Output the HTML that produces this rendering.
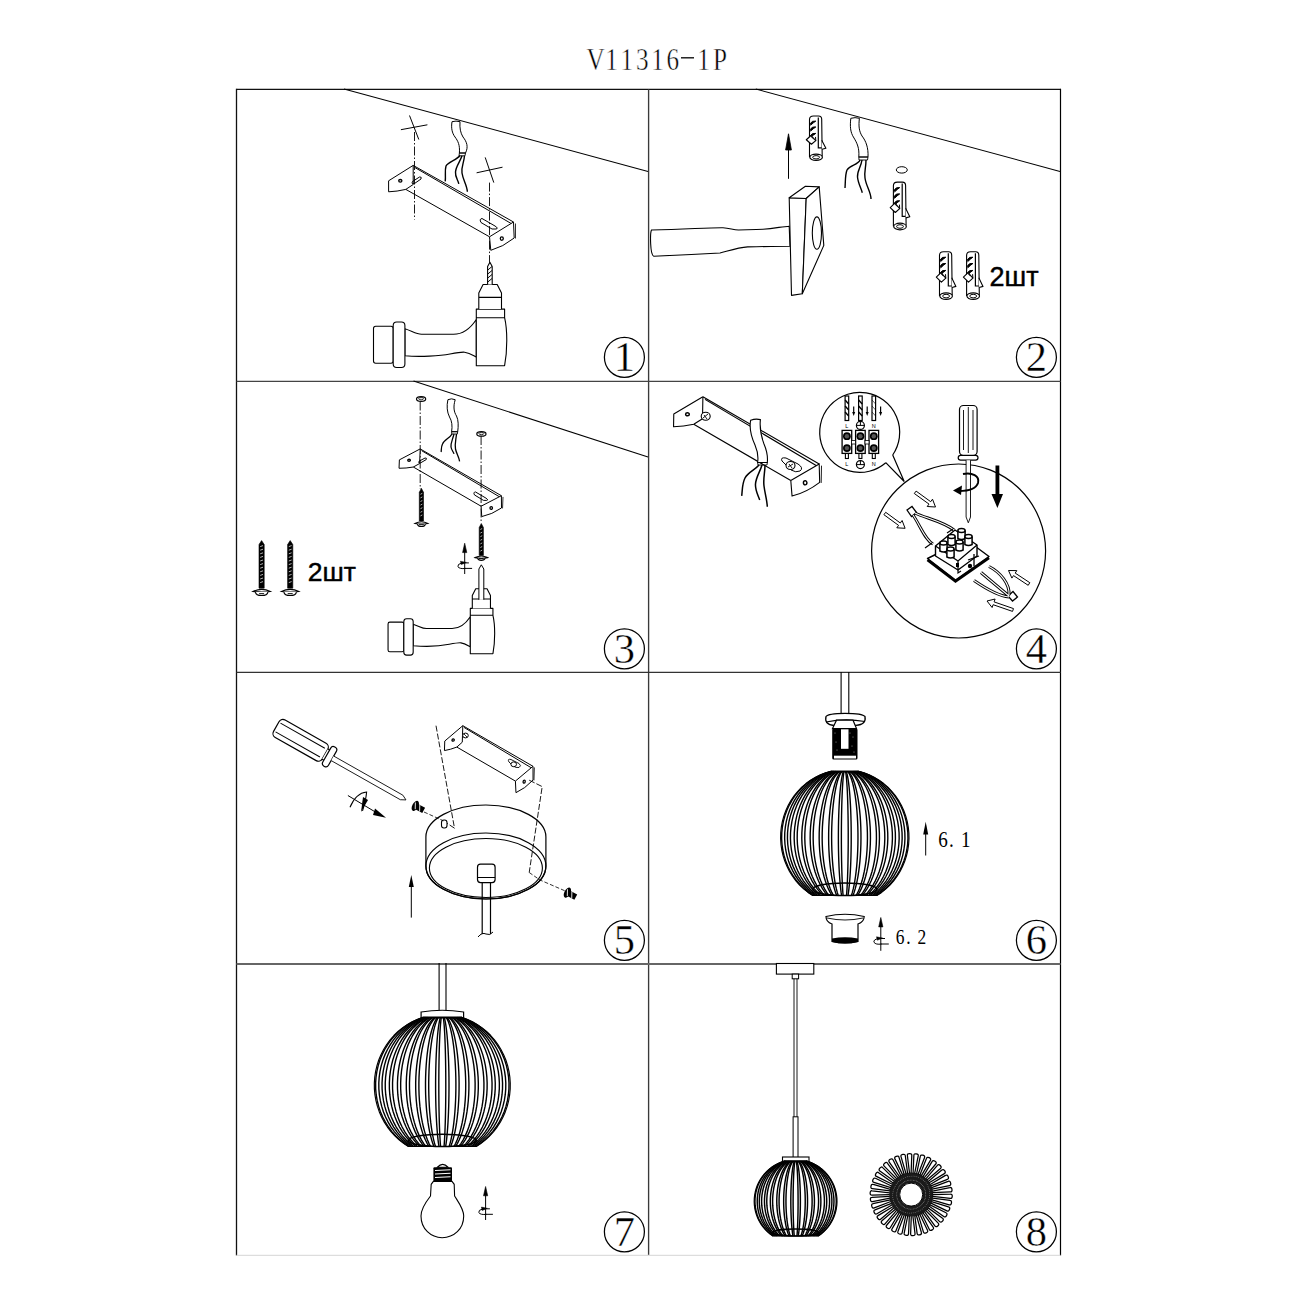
<!DOCTYPE html>
<html><head><meta charset="utf-8"><style>
html,body{margin:0;padding:0;background:#fff;width:1300px;height:1300px;overflow:hidden}
svg{display:block}
</style></head><body>
<svg width="1300" height="1300" viewBox="0 0 1300 1300"><line x1="236.5" y1="89.3" x2="1060.5" y2="89.3" stroke="#111" stroke-width="1.3" />
<line x1="236.5" y1="88.8" x2="236.5" y2="1255.5" stroke="#111" stroke-width="1.3" />
<line x1="1060.5" y1="88.8" x2="1060.5" y2="1255.5" stroke="#000" stroke-width="1.2" />
<line x1="648.6" y1="89.3" x2="648.6" y2="1255.5" stroke="#3a3a3a" stroke-width="1.35" />
<line x1="236.5" y1="381.4" x2="1060.5" y2="381.4" stroke="#444" stroke-width="1.3" />
<line x1="236.5" y1="672.4" x2="1060.5" y2="672.4" stroke="#333" stroke-width="1.3" />
<line x1="236.5" y1="964.0" x2="1060.5" y2="964.0" stroke="#666" stroke-width="1.9" />
<line x1="236.5" y1="1255.3" x2="1060.5" y2="1255.3" stroke="#ddd" stroke-width="1.3" />
<g transform="translate(595.6,69.6) scale(0.8,1)"><text x="0" y="0" font-family="Liberation Serif" font-size="31.5" text-anchor="middle" stroke="#fff" stroke-width="0.5">V</text></g>
<g transform="translate(611.5,69.6) scale(0.8,1)"><text x="0" y="0" font-family="Liberation Serif" font-size="31.5" text-anchor="middle" stroke="#fff" stroke-width="0.5">1</text></g>
<g transform="translate(626.7,69.6) scale(0.8,1)"><text x="0" y="0" font-family="Liberation Serif" font-size="31.5" text-anchor="middle" stroke="#fff" stroke-width="0.5">1</text></g>
<g transform="translate(642.3,69.6) scale(0.8,1)"><text x="0" y="0" font-family="Liberation Serif" font-size="31.5" text-anchor="middle" stroke="#fff" stroke-width="0.5">3</text></g>
<g transform="translate(657.6,69.6) scale(0.8,1)"><text x="0" y="0" font-family="Liberation Serif" font-size="31.5" text-anchor="middle" stroke="#fff" stroke-width="0.5">1</text></g>
<g transform="translate(672.8,69.6) scale(0.8,1)"><text x="0" y="0" font-family="Liberation Serif" font-size="31.5" text-anchor="middle" stroke="#fff" stroke-width="0.5">6</text></g>
<g transform="translate(703.6,69.6) scale(0.8,1)"><text x="0" y="0" font-family="Liberation Serif" font-size="31.5" text-anchor="middle" stroke="#fff" stroke-width="0.5">1</text></g>
<g transform="translate(719.9,69.6) scale(0.8,1)"><text x="0" y="0" font-family="Liberation Serif" font-size="31.5" text-anchor="middle" stroke="#fff" stroke-width="0.5">P</text></g>
<line x1="681.0" y1="57.8" x2="694.0" y2="57.8" stroke="#111" stroke-width="1.4" />
<circle cx="624.4" cy="357.3" r="20.0" stroke="#000" stroke-width="1.25" fill="none" />
<text x="624.4" y="371.0" font-family="Liberation Serif" font-size="42.5" text-anchor="middle" stroke="#fff" stroke-width="0.4">1</text>
<circle cx="1036.4" cy="357.3" r="20.0" stroke="#000" stroke-width="1.25" fill="none" />
<text x="1036.4" y="371.0" font-family="Liberation Serif" font-size="42.5" text-anchor="middle" stroke="#fff" stroke-width="0.4">2</text>
<circle cx="624.4" cy="648.8" r="20.0" stroke="#000" stroke-width="1.25" fill="none" />
<text x="624.4" y="662.5" font-family="Liberation Serif" font-size="42.5" text-anchor="middle" stroke="#fff" stroke-width="0.4">3</text>
<circle cx="1036.4" cy="648.8" r="20.0" stroke="#000" stroke-width="1.25" fill="none" />
<text x="1036.4" y="662.5" font-family="Liberation Serif" font-size="42.5" text-anchor="middle" stroke="#fff" stroke-width="0.4">4</text>
<circle cx="624.4" cy="940.3" r="20.0" stroke="#000" stroke-width="1.25" fill="none" />
<text x="624.4" y="954.0" font-family="Liberation Serif" font-size="42.5" text-anchor="middle" stroke="#fff" stroke-width="0.4">5</text>
<circle cx="1036.4" cy="940.3" r="20.0" stroke="#000" stroke-width="1.25" fill="none" />
<text x="1036.4" y="954.0" font-family="Liberation Serif" font-size="42.5" text-anchor="middle" stroke="#fff" stroke-width="0.4">6</text>
<circle cx="624.4" cy="1231.8" r="20.0" stroke="#000" stroke-width="1.25" fill="none" />
<text x="624.4" y="1245.5" font-family="Liberation Serif" font-size="42.5" text-anchor="middle" stroke="#fff" stroke-width="0.4">7</text>
<circle cx="1036.4" cy="1231.8" r="20.0" stroke="#000" stroke-width="1.25" fill="none" />
<text x="1036.4" y="1245.5" font-family="Liberation Serif" font-size="42.5" text-anchor="middle" stroke="#fff" stroke-width="0.4">8</text>
<line x1="344.0" y1="89.0" x2="648.0" y2="171.4" stroke="#000" stroke-width="1.05" />
<path d="M414.5,132 L414.5,219.5" stroke="#000" stroke-width="0.9" fill="none" stroke-dasharray="9,2,1.5,2"/>
<path d="M489.5,182.6 L489.5,265" stroke="#000" stroke-width="0.9" fill="none" stroke-dasharray="9,2,1.5,2"/>
<path d="M400.9,129.7 L427.4,124.8 M409.5,115.5 L418.8,139.5" stroke="#000" stroke-width="1.0" fill="none" />
<path d="M476.6,172.8 L502.5,167.2 M485.2,157.4 L493.8,182.6" stroke="#000" stroke-width="1.0" fill="none" />
<path d="M452,121.7 C451,128 452,133 455,137 C458,141 460,145 459.4,153 L465.5,153 C468.5,147 467,142 463,137 C460.5,133 459.5,128 460,121.7 Q456,120.5 452,121.7 Z" stroke="#000" stroke-width="1.0" fill="#fff" />
<path d="M459.4,153 L465.5,153 L465,155.8 L459,155.8 Z" stroke="#000" stroke-width="0.9" fill="none" />
<path d="M460,155.5 C457,160 448,162 446,166 C444.5,171 446,176 445.2,181.4 M462,155.8 C460,162 456,166 455.5,172 C455,177 458,180 458.8,183.8 M464.5,155.8 C464,163 461,167 462,173 C463,180 467,185 467.4,191.8" stroke="#000" stroke-width="1.4" fill="none" />
<g transform="matrix(1.0000,0.0000,0.0000,1.0000,-0.00,0.00)"><path d="M413.2,165.4 L388.6,180.8 L388.6,191.8 Q397,191.5 405.8,189.4 L413.2,184.5" fill="#fff" stroke="#000" stroke-width="1.0" vector-effect="non-scaling-stroke" stroke-linejoin="round"/><path d="M413.2,165.4 L513.5,222 M415,167.6 L512,224 M405.8,189.4 L489.5,236.8 M413.2,165.4 L413.2,184.5" fill="none" stroke="#000" stroke-width="1.0" vector-effect="non-scaling-stroke"/><path d="M489.5,236.8 L513.5,222 L514.2,238 Q503,247 490.8,250.3 Z" fill="#fff" stroke="#000" stroke-width="1.0" vector-effect="non-scaling-stroke" stroke-linejoin="round"/><path d="M515.5,223.5 L515.5,238.5" fill="none" stroke="#000" stroke-width="0.8" vector-effect="non-scaling-stroke"/><ellipse cx="400.3" cy="180.8" rx="1.6" ry="1.3" fill="none" stroke="#000" stroke-width="1.3" vector-effect="non-scaling-stroke"/><ellipse cx="501.8" cy="238.6" rx="1.5" ry="1.8" fill="none" stroke="#000" stroke-width="1.3" vector-effect="non-scaling-stroke"/><path d="M412.5,181.5 L419.5,177 Q422,176.5 421,179 L414.5,183.5 Q411,184.5 412.5,181.5 Z" fill="none" stroke="#000" stroke-width="1.0" vector-effect="non-scaling-stroke"/><path d="M482,218.5 L495,226 Q499,228.5 496,229 L492,229 L481,222.5 Q479,219 482,218.5 Z" fill="none" stroke="#000" stroke-width="1.0" vector-effect="non-scaling-stroke"/></g>
<path d="M404.9,328.8 C412,331 416,334.3 421.5,334.3 L453.5,334.3 C465,334.3 472,326 476.3,319.5 L476.3,357.1 C474,356 470,353 464.6,352.2 C462,351.8 458,352.5 450,354 C440,356 420,357 404.9,355.8 Z" fill="#fff" stroke="#000" stroke-width="1.1" vector-effect="non-scaling-stroke" stroke-linejoin="round"/><rect x="373.5" y="326.3" width="19.7" height="36.9" rx="2.2" fill="#fff" stroke="#000" stroke-width="1.1" vector-effect="non-scaling-stroke" stroke-linejoin="round"/><rect x="393.2" y="322" width="11.7" height="45.5" rx="3.5" fill="#fff" stroke="#000" stroke-width="1.1" vector-effect="non-scaling-stroke" stroke-linejoin="round"/><path d="M476.3,309.1 L504.6,309.1 L504.6,317.7 C507.5,330 507.5,350 504.6,365.7 L476.3,365.7 Z M476.3,317.7 L504.6,317.7" fill="#fff" stroke="#000" stroke-width="1.1" vector-effect="non-scaling-stroke" stroke-linejoin="round"/><path d="M478.8,309.1 L478.8,293.1 L483.1,284.5 L497.2,284.5 L501.5,293.1 L501.5,309.1 M478.8,297.4 L501.5,297.4" fill="#fff" stroke="#000" stroke-width="1.1" vector-effect="non-scaling-stroke" stroke-linejoin="round"/><path d="M487.6,284.5 L487.6,266.5 L489.9,262.3 L492.2,266.5 L492.2,284.5" fill="#fff" stroke="#000" stroke-width="1.1" vector-effect="non-scaling-stroke" stroke-linejoin="round"/><path d="M487.8,282 L492,278.5 M487.8,278 L492,274.5 M487.8,274 L492,270.5 M487.8,270 L492,266.5" fill="none" stroke="#000" stroke-width="0.9900000000000001" vector-effect="non-scaling-stroke"/>
<line x1="755.8" y1="89.0" x2="1060.0" y2="171.4" stroke="#000" stroke-width="1.05" />
<path d="M788.5,178.8 L788.5,148" stroke="#000" stroke-width="1.0" fill="none" />
<path d="M785.6,150 L788.5,133.8 L791.4,150 Z" stroke="#000" stroke-width="0.8" fill="#000" />
<path d="M850.8,118.3 C850,126 850,132 854,138 C857,143 859.5,148 858.8,157 L868,157 C868.5,148 866,141 862,136 C859,131 858.5,126 859.4,118.3 Q855,117 850.8,118.3 Z" stroke="#000" stroke-width="1.0" fill="#fff" />
<path d="M858.8,157 L868,157 L867.5,160 L859,160 Z" stroke="#000" stroke-width="0.9" fill="none" />
<path d="M860,160 C858,165 850,165 847,170 C845,175 845.5,182 845,188 M862,160 C861,167 857,171 857.5,177 C858,183 861,188 862.3,192.7 M866,160 C866,168 864,172 865,178 C866,186 871,192 871,199" stroke="#000" stroke-width="1.4" fill="none" />
<ellipse cx="901.8" cy="169.9" rx="5.5" ry="3.2" stroke="#000" stroke-width="1.0" fill="none" />
<g transform="translate(809.5,116.0) scale(1.0,0.93)"><path d="M0,44.2 L0,3.7 Q0,0 4,0 L9,0 Q12.2,0 12.2,3.5 L12.7,43.5" fill="#fff" stroke="#000" vector-effect="non-scaling-stroke" stroke-linejoin="round" stroke-width="1.1"/><path d="M8.8,1.5 L8.8,34.3 L12.2,34.3" fill="none" stroke="#000" stroke-width="1.2" vector-effect="non-scaling-stroke"/><ellipse cx="6.6" cy="44.4" rx="6.3" ry="3.3" fill="#fff" stroke="#000" vector-effect="non-scaling-stroke" stroke-linejoin="round" stroke-width="1.2"/><ellipse cx="6.6" cy="44.4" rx="3.4" ry="1.8" fill="none" stroke="#000" stroke-width="1" vector-effect="non-scaling-stroke"/><path d="M0.5,8.5 Q2.5,4.5 6.3,5.5 Q4,7.0 1,10.0" fill="#000" stroke="#000" stroke-width="1" vector-effect="non-scaling-stroke"/><path d="M0.5,14.8 Q2.5,10.8 6.3,11.8 Q4,13.3 1,16.3" fill="#000" stroke="#000" stroke-width="1" vector-effect="non-scaling-stroke"/><path d="M0.5,21.7 Q2.5,17.7 6.3,18.7 Q4,20.2 1,23.2" fill="#000" stroke="#000" stroke-width="1" vector-effect="non-scaling-stroke"/><path d="M-3.2,25.5 L1.5,21 L6.3,26.5 L1.9,30.4 Z" fill="#fff" stroke="#000" vector-effect="non-scaling-stroke" stroke-linejoin="round" stroke-width="1.1"/><path d="M1.5,22 L4,24.5 M6,22.5 L6.3,26.5" fill="none" stroke="#000" stroke-width="1" vector-effect="non-scaling-stroke"/><path d="M12.2,26.1 L16.4,34.7 L12.5,35.8" fill="#fff" stroke="#000" vector-effect="non-scaling-stroke" stroke-linejoin="round" stroke-width="1.1"/></g>
<g transform="translate(893.4,182.1) scale(1.0,1.0)"><path d="M0,44.2 L0,3.7 Q0,0 4,0 L9,0 Q12.2,0 12.2,3.5 L12.7,43.5" fill="#fff" stroke="#000" vector-effect="non-scaling-stroke" stroke-linejoin="round" stroke-width="1.1"/><path d="M8.8,1.5 L8.8,34.3 L12.2,34.3" fill="none" stroke="#000" stroke-width="1.2" vector-effect="non-scaling-stroke"/><ellipse cx="6.6" cy="44.4" rx="6.3" ry="3.3" fill="#fff" stroke="#000" vector-effect="non-scaling-stroke" stroke-linejoin="round" stroke-width="1.2"/><ellipse cx="6.6" cy="44.4" rx="3.4" ry="1.8" fill="none" stroke="#000" stroke-width="1" vector-effect="non-scaling-stroke"/><path d="M0.5,8.5 Q2.5,4.5 6.3,5.5 Q4,7.0 1,10.0" fill="#000" stroke="#000" stroke-width="1" vector-effect="non-scaling-stroke"/><path d="M0.5,14.8 Q2.5,10.8 6.3,11.8 Q4,13.3 1,16.3" fill="#000" stroke="#000" stroke-width="1" vector-effect="non-scaling-stroke"/><path d="M0.5,21.7 Q2.5,17.7 6.3,18.7 Q4,20.2 1,23.2" fill="#000" stroke="#000" stroke-width="1" vector-effect="non-scaling-stroke"/><path d="M-3.2,25.5 L1.5,21 L6.3,26.5 L1.9,30.4 Z" fill="#fff" stroke="#000" vector-effect="non-scaling-stroke" stroke-linejoin="round" stroke-width="1.1"/><path d="M1.5,22 L4,24.5 M6,22.5 L6.3,26.5" fill="none" stroke="#000" stroke-width="1" vector-effect="non-scaling-stroke"/><path d="M12.2,26.1 L16.4,34.7 L12.5,35.8" fill="#fff" stroke="#000" vector-effect="non-scaling-stroke" stroke-linejoin="round" stroke-width="1.1"/></g>
<g transform="translate(939.5,251.7) scale(1.0,1.0)"><path d="M0,44.2 L0,3.7 Q0,0 4,0 L9,0 Q12.2,0 12.2,3.5 L12.7,43.5" fill="#fff" stroke="#000" vector-effect="non-scaling-stroke" stroke-linejoin="round" stroke-width="1.1"/><path d="M8.8,1.5 L8.8,34.3 L12.2,34.3" fill="none" stroke="#000" stroke-width="1.2" vector-effect="non-scaling-stroke"/><ellipse cx="6.6" cy="44.4" rx="6.3" ry="3.3" fill="#fff" stroke="#000" vector-effect="non-scaling-stroke" stroke-linejoin="round" stroke-width="1.2"/><ellipse cx="6.6" cy="44.4" rx="3.4" ry="1.8" fill="none" stroke="#000" stroke-width="1" vector-effect="non-scaling-stroke"/><path d="M0.5,8.5 Q2.5,4.5 6.3,5.5 Q4,7.0 1,10.0" fill="#000" stroke="#000" stroke-width="1" vector-effect="non-scaling-stroke"/><path d="M0.5,14.8 Q2.5,10.8 6.3,11.8 Q4,13.3 1,16.3" fill="#000" stroke="#000" stroke-width="1" vector-effect="non-scaling-stroke"/><path d="M0.5,21.7 Q2.5,17.7 6.3,18.7 Q4,20.2 1,23.2" fill="#000" stroke="#000" stroke-width="1" vector-effect="non-scaling-stroke"/><path d="M-3.2,25.5 L1.5,21 L6.3,26.5 L1.9,30.4 Z" fill="#fff" stroke="#000" vector-effect="non-scaling-stroke" stroke-linejoin="round" stroke-width="1.1"/><path d="M1.5,22 L4,24.5 M6,22.5 L6.3,26.5" fill="none" stroke="#000" stroke-width="1" vector-effect="non-scaling-stroke"/><path d="M12.2,26.1 L16.4,34.7 L12.5,35.8" fill="#fff" stroke="#000" vector-effect="non-scaling-stroke" stroke-linejoin="round" stroke-width="1.1"/></g>
<g transform="translate(966.6,251.7) scale(1.0,1.0)"><path d="M0,44.2 L0,3.7 Q0,0 4,0 L9,0 Q12.2,0 12.2,3.5 L12.7,43.5" fill="#fff" stroke="#000" vector-effect="non-scaling-stroke" stroke-linejoin="round" stroke-width="1.1"/><path d="M8.8,1.5 L8.8,34.3 L12.2,34.3" fill="none" stroke="#000" stroke-width="1.2" vector-effect="non-scaling-stroke"/><ellipse cx="6.6" cy="44.4" rx="6.3" ry="3.3" fill="#fff" stroke="#000" vector-effect="non-scaling-stroke" stroke-linejoin="round" stroke-width="1.2"/><ellipse cx="6.6" cy="44.4" rx="3.4" ry="1.8" fill="none" stroke="#000" stroke-width="1" vector-effect="non-scaling-stroke"/><path d="M0.5,8.5 Q2.5,4.5 6.3,5.5 Q4,7.0 1,10.0" fill="#000" stroke="#000" stroke-width="1" vector-effect="non-scaling-stroke"/><path d="M0.5,14.8 Q2.5,10.8 6.3,11.8 Q4,13.3 1,16.3" fill="#000" stroke="#000" stroke-width="1" vector-effect="non-scaling-stroke"/><path d="M0.5,21.7 Q2.5,17.7 6.3,18.7 Q4,20.2 1,23.2" fill="#000" stroke="#000" stroke-width="1" vector-effect="non-scaling-stroke"/><path d="M-3.2,25.5 L1.5,21 L6.3,26.5 L1.9,30.4 Z" fill="#fff" stroke="#000" vector-effect="non-scaling-stroke" stroke-linejoin="round" stroke-width="1.1"/><path d="M1.5,22 L4,24.5 M6,22.5 L6.3,26.5" fill="none" stroke="#000" stroke-width="1" vector-effect="non-scaling-stroke"/><path d="M12.2,26.1 L16.4,34.7 L12.5,35.8" fill="#fff" stroke="#000" vector-effect="non-scaling-stroke" stroke-linejoin="round" stroke-width="1.1"/></g>
<text x="989.5" y="286.2" font-family="Liberation Sans" font-size="27" text-anchor="start" stroke="#000" stroke-width="0.45">2шт</text>
<path d="M651.5,230 C690,229 710,227.5 723,227.7 C730,228 733,230 738.5,230 C750,230 755,229.5 763,229.2 C775,228.5 782,226.5 789.2,226.2 L790,246.2 C780,246.2 765,246.5 747.7,246.9 C738,247.5 728,251 720,253 C700,254 670,255.5 653.8,256.2 C650,255 650,233 651.5,230 Z" stroke="#000" stroke-width="1.1" fill="#fff" />
<polygon points="789.2,197.7 806.2,198.5 802.3,293.8 791.5,295.4" stroke="#000" stroke-width="1.1" fill="#fff" stroke-linejoin="round" />
<polygon points="789.2,197.7 805.4,186.2 819.2,186.9 806.2,198.5" stroke="#000" stroke-width="1.1" fill="#fff" stroke-linejoin="round" />
<polygon points="806.2,198.5 819.2,186.9 823.8,245.4 802.3,293.8" stroke="#000" stroke-width="1.1" fill="#fff" stroke-linejoin="round" />
<ellipse cx="816.9" cy="233.1" rx="4.6" ry="16.2" stroke="#000" stroke-width="1.1" fill="none" />
<line x1="413.5" y1="381.0" x2="648.0" y2="457.0" stroke="#000" stroke-width="1.05" />
<path d="M420.2,401.5 L420.2,489" stroke="#000" stroke-width="0.9" fill="none" stroke-dasharray="9,2,1.5,2"/>
<path d="M481.1,436 L481.1,523" stroke="#000" stroke-width="0.9" fill="none" stroke-dasharray="9,2,1.5,2"/>
<ellipse cx="421.1" cy="399.0" rx="4.6" ry="2.4" fill="#fff" stroke="#000" stroke-width="1.2"/><ellipse cx="421.1" cy="398.7" rx="2.5" ry="1.1" fill="none" stroke="#000" stroke-width="0.8"/>
<ellipse cx="481.4" cy="433.9" rx="4.6" ry="2.2" fill="#fff" stroke="#000" stroke-width="1.2"/><ellipse cx="481.4" cy="433.6" rx="2.5" ry="1.0" fill="none" stroke="#000" stroke-width="0.8"/>
<path d="M447.9,399.7 C446.5,406 447,412 449.5,417 C452,421 452.5,426 451.6,431.7 L457.7,431.7 C458.5,426 458.5,420 456.5,416 C454,412 453,407 455.2,399.7 Q451.5,398 447.9,399.7 Z" stroke="#000" stroke-width="1.0" fill="#fff" />
<path d="M451.6,431.7 L457.7,431.7 L457.3,434 L451.8,434 Z" stroke="#000" stroke-width="0.9" fill="none" />
<path d="M452,434 C450,438 444,440 442.5,444 C441,447 441.5,450 441.1,452 M454,434 C452.5,440 450.5,443 451,447 C451.5,450 453.5,452 454,453.9 M456.5,434 C456,440 454.5,444 455.5,449 C456.5,454 459,457 459.6,461.3" stroke="#000" stroke-width="1.3" fill="none" />
<g transform="matrix(0.8269,0.0346,-0.0307,0.7656,83.60,307.98)"><path d="M413.2,165.4 L388.6,180.8 L388.6,191.8 Q397,191.5 405.8,189.4 L413.2,184.5" fill="#fff" stroke="#000" stroke-width="1.0" vector-effect="non-scaling-stroke" stroke-linejoin="round"/><path d="M413.2,165.4 L513.5,222 M415,167.6 L512,224 M405.8,189.4 L489.5,236.8 M413.2,165.4 L413.2,184.5" fill="none" stroke="#000" stroke-width="1.0" vector-effect="non-scaling-stroke"/><path d="M489.5,236.8 L513.5,222 L514.2,238 Q503,247 490.8,250.3 Z" fill="#fff" stroke="#000" stroke-width="1.0" vector-effect="non-scaling-stroke" stroke-linejoin="round"/><path d="M515.5,223.5 L515.5,238.5" fill="none" stroke="#000" stroke-width="0.8" vector-effect="non-scaling-stroke"/><ellipse cx="400.3" cy="180.8" rx="1.6" ry="1.3" fill="none" stroke="#000" stroke-width="1.3" vector-effect="non-scaling-stroke"/><ellipse cx="501.8" cy="238.6" rx="1.5" ry="1.8" fill="none" stroke="#000" stroke-width="1.3" vector-effect="non-scaling-stroke"/><path d="M412.5,181.5 L419.5,177 Q422,176.5 421,179 L414.5,183.5 Q411,184.5 412.5,181.5 Z" fill="none" stroke="#000" stroke-width="1.0" vector-effect="non-scaling-stroke"/><path d="M482,218.5 L495,226 Q499,228.5 496,229 L492,229 L481,222.5 Q479,219 482,218.5 Z" fill="none" stroke="#000" stroke-width="1.0" vector-effect="non-scaling-stroke"/></g>
<path d="M419.3,492.3 L421.4,488.3 L423.5,492.3 L423.5,521.0 L419.3,521.0 Z" fill="#000" stroke="#000" stroke-width="0.6"/><path d="M420.5,494.3 L422.3,493.3" stroke="#fff" stroke-width="0.7"/><path d="M420.5,497.9 L422.3,496.9" stroke="#fff" stroke-width="0.7"/><path d="M420.5,501.5 L422.3,500.5" stroke="#fff" stroke-width="0.7"/><path d="M420.5,505.1 L422.3,504.1" stroke="#fff" stroke-width="0.7"/><path d="M420.5,508.7 L422.3,507.7" stroke="#fff" stroke-width="0.7"/><path d="M420.5,512.3 L422.3,511.3" stroke="#fff" stroke-width="0.7"/><path d="M420.5,515.9 L422.3,514.9" stroke="#fff" stroke-width="0.7"/><path d="M414.9,523.5 Q421.4,520.0 427.9,523.5 Q421.4,524.7 414.9,523.5 Z" fill="#fff" stroke="#000" stroke-width="1.1"/><path d="M417.4,524.1 Q417.9,526.5 421.4,526.5 Q424.9,526.5 425.4,524.1" fill="#fff" stroke="#000" stroke-width="1.1"/><path d="M418.9,524.7 L423.9,524.7" stroke="#000" stroke-width="1"/>
<path d="M479.2,527.5 L481.3,523.5 L483.4,527.5 L483.4,555.4 L479.2,555.4 Z" fill="#000" stroke="#000" stroke-width="0.6"/><path d="M480.4,529.5 L482.2,528.5" stroke="#fff" stroke-width="0.7"/><path d="M480.4,533.1 L482.2,532.1" stroke="#fff" stroke-width="0.7"/><path d="M480.4,536.7 L482.2,535.7" stroke="#fff" stroke-width="0.7"/><path d="M480.4,540.3 L482.2,539.3" stroke="#fff" stroke-width="0.7"/><path d="M480.4,543.9 L482.2,542.9" stroke="#fff" stroke-width="0.7"/><path d="M480.4,547.5 L482.2,546.5" stroke="#fff" stroke-width="0.7"/><path d="M480.4,551.1 L482.2,550.1" stroke="#fff" stroke-width="0.7"/><path d="M475.1,557.6 Q481.3,554.4 487.6,557.6 Q481.3,558.9 475.1,557.6 Z" fill="#fff" stroke="#000" stroke-width="1.1"/><path d="M477.6,558.2 Q478.1,560.4 481.3,560.4 Q484.6,560.4 485.1,558.2" fill="#fff" stroke="#000" stroke-width="1.1"/><path d="M478.8,558.6 L483.8,558.6" stroke="#000" stroke-width="1"/>
<path d="M464.7,550.0 L464.7,574.0" stroke="#000" stroke-width="1"/><path d="M462.6,552.6 L464.7,543.2 L466.8,552.6 Z" fill="#000" stroke="#000" stroke-width="0.6"/><path d="M464.7,568.4 L472.1,568.4" stroke="#000" stroke-width="1"/><path d="M468.9,562.9 L462.1,562.9 Q457.1,564.1 457.9,566.7 Q459.6,569.2 465.6,568.4" fill="none" stroke="#000" stroke-width="1"/><path d="M460.4,561.2 L466.4,562.4 L461.3,564.6 Z" fill="#000" stroke="#000" stroke-width="0.5"/>
<g transform="matrix(0.8,0,0,0.8,89.26,361.12)"><path d="M404.9,328.8 C412,331 416,334.3 421.5,334.3 L453.5,334.3 C465,334.3 472,326 476.3,319.5 L476.3,357.1 C474,356 470,353 464.6,352.2 C462,351.8 458,352.5 450,354 C440,356 420,357 404.9,355.8 Z" fill="#fff" stroke="#000" stroke-width="1.1" vector-effect="non-scaling-stroke" stroke-linejoin="round"/><rect x="373.5" y="326.3" width="19.7" height="36.9" rx="2.2" fill="#fff" stroke="#000" stroke-width="1.1" vector-effect="non-scaling-stroke" stroke-linejoin="round"/><rect x="393.2" y="322" width="11.7" height="45.5" rx="3.5" fill="#fff" stroke="#000" stroke-width="1.1" vector-effect="non-scaling-stroke" stroke-linejoin="round"/><path d="M476.3,309.1 L504.6,309.1 L504.6,317.7 C507.5,330 507.5,350 504.6,365.7 L476.3,365.7 Z M476.3,317.7 L504.6,317.7" fill="#fff" stroke="#000" stroke-width="1.1" vector-effect="non-scaling-stroke" stroke-linejoin="round"/><path d="M478.8,309.1 L478.8,293.1 L483.1,284.5 L497.2,284.5 L501.5,293.1 L501.5,309.1 M478.8,297.4 L501.5,297.4" fill="#fff" stroke="#000" stroke-width="1.1" vector-effect="non-scaling-stroke" stroke-linejoin="round"/></g>
<path d="M478.9,599.8 L478.9,569 L481.3,564.8 L483.8,569 L483.8,599.8" stroke="#000" stroke-width="1.0" fill="#fff" />
<path d="M259.0,544.6 L261.6,540.6 L264.2,544.6 L264.2,588.2 L259.0,588.2 Z" fill="#000" stroke="#000" stroke-width="0.6"/><path d="M260.2,546.6 L263.0,545.6" stroke="#fff" stroke-width="0.7"/><path d="M260.2,550.2 L263.0,549.2" stroke="#fff" stroke-width="0.7"/><path d="M260.2,553.8 L263.0,552.8" stroke="#fff" stroke-width="0.7"/><path d="M260.2,557.4 L263.0,556.4" stroke="#fff" stroke-width="0.7"/><path d="M260.2,561.0 L263.0,560.0" stroke="#fff" stroke-width="0.7"/><path d="M260.2,564.6 L263.0,563.6" stroke="#fff" stroke-width="0.7"/><path d="M260.2,568.2 L263.0,567.2" stroke="#fff" stroke-width="0.7"/><path d="M260.2,571.8 L263.0,570.8" stroke="#fff" stroke-width="0.7"/><path d="M260.2,575.4 L263.0,574.4" stroke="#fff" stroke-width="0.7"/><path d="M260.2,579.0 L263.0,578.0" stroke="#fff" stroke-width="0.7"/><path d="M260.2,582.6 L263.0,581.6" stroke="#fff" stroke-width="0.7"/><path d="M252.9,591.5 Q261.6,587.2 270.4,591.5 Q261.6,592.7 252.9,591.5 Z" fill="#fff" stroke="#000" stroke-width="1.1"/><path d="M255.4,592.1 Q255.9,595.5 261.6,595.5 Q267.4,595.5 267.9,592.1" fill="#fff" stroke="#000" stroke-width="1.1"/><path d="M259.1,593.7 L264.1,593.7" stroke="#000" stroke-width="1"/>
<path d="M287.6,544.6 L290.2,540.6 L292.8,544.6 L292.8,588.2 L287.6,588.2 Z" fill="#000" stroke="#000" stroke-width="0.6"/><path d="M288.8,546.6 L291.6,545.6" stroke="#fff" stroke-width="0.7"/><path d="M288.8,550.2 L291.6,549.2" stroke="#fff" stroke-width="0.7"/><path d="M288.8,553.8 L291.6,552.8" stroke="#fff" stroke-width="0.7"/><path d="M288.8,557.4 L291.6,556.4" stroke="#fff" stroke-width="0.7"/><path d="M288.8,561.0 L291.6,560.0" stroke="#fff" stroke-width="0.7"/><path d="M288.8,564.6 L291.6,563.6" stroke="#fff" stroke-width="0.7"/><path d="M288.8,568.2 L291.6,567.2" stroke="#fff" stroke-width="0.7"/><path d="M288.8,571.8 L291.6,570.8" stroke="#fff" stroke-width="0.7"/><path d="M288.8,575.4 L291.6,574.4" stroke="#fff" stroke-width="0.7"/><path d="M288.8,579.0 L291.6,578.0" stroke="#fff" stroke-width="0.7"/><path d="M288.8,582.6 L291.6,581.6" stroke="#fff" stroke-width="0.7"/><path d="M281.4,591.5 Q290.2,587.2 298.9,591.5 Q290.2,592.7 281.4,591.5 Z" fill="#fff" stroke="#000" stroke-width="1.1"/><path d="M283.9,592.1 Q284.4,595.5 290.2,595.5 Q295.9,595.5 296.4,592.1" fill="#fff" stroke="#000" stroke-width="1.1"/><path d="M287.7,593.7 L292.7,593.7" stroke="#000" stroke-width="1"/>
<text x="307.8" y="580.8" font-family="Liberation Sans" font-size="26.5" text-anchor="start" stroke="#000" stroke-width="0.45">2шт</text>
<g transform="matrix(1.1709,0.0188,-0.0202,1.1522,222.42,198.46)"><path d="M413.2,165.4 L388.6,180.8 L388.6,191.8 Q397,191.5 405.8,189.4 L413.2,184.5" fill="#fff" stroke="#000" stroke-width="1.1" vector-effect="non-scaling-stroke" stroke-linejoin="round"/><path d="M413.2,165.4 L513.5,222 M415,167.6 L512,224 M405.8,189.4 L489.5,236.8 M413.2,165.4 L413.2,184.5" fill="none" stroke="#000" stroke-width="1.1" vector-effect="non-scaling-stroke"/><path d="M489.5,236.8 L513.5,222 L514.2,238 Q503,247 490.8,250.3 Z" fill="#fff" stroke="#000" stroke-width="1.1" vector-effect="non-scaling-stroke" stroke-linejoin="round"/><path d="M515.5,223.5 L515.5,238.5" fill="none" stroke="#000" stroke-width="0.8800000000000001" vector-effect="non-scaling-stroke"/><ellipse cx="400.3" cy="180.8" rx="1.6" ry="1.3" fill="none" stroke="#000" stroke-width="1.4300000000000002" vector-effect="non-scaling-stroke"/><ellipse cx="501.8" cy="238.6" rx="1.5" ry="1.8" fill="none" stroke="#000" stroke-width="1.4300000000000002" vector-effect="non-scaling-stroke"/></g>
<ellipse cx="705.7" cy="416.2" rx="4.5" ry="4.0" stroke="#000" stroke-width="1.1" fill="#fff" />
<path d="M703,418 L708,414 M704,415 L707,419" stroke="#000" stroke-width="0.9" fill="none" />
<path d="M782,461 Q780,457 786,458 L798,464 Q804,468 800,471 Q796,473 791,470 Z" stroke="#000" stroke-width="1.0" fill="#fff" />
<ellipse cx="790.5" cy="465.5" rx="4.5" ry="4.0" stroke="#000" stroke-width="1.1" fill="#fff" />
<path d="M788,467 L793,464 M789,464 L792,468" stroke="#000" stroke-width="0.9" fill="none" />
<path d="M750.7,420.2 C749,428 751,436 755,445 C758,452 758.5,457 757.6,462.5 L767.3,462.5 C768,456 767,451 764,444 C761,436 759.5,428 760.4,419.6 Q755.5,418.5 750.7,420.2 Z" stroke="#000" stroke-width="1.1" fill="#fff" />
<path d="M757.6,462.5 L767.3,462.5 L767,465 L758,465 Z" stroke="#000" stroke-width="0.9" fill="none" />
<path d="M759,465 C755,470 748,472 745,478 C742,484 742.5,490 741.7,495.8 M762,465 C760,472 756,477 755.5,484 C755,490 758,495 759.7,500 M765,465 C765,473 763,478 764,486 C765,494 767,500 767.3,506.8" stroke="#000" stroke-width="1.5" fill="none" />
<path d="M885.8,462.7 A40,40 0 1 1 892.7,455" fill="none" stroke="#000" stroke-width="1.2"/>
<path d="M885.8,462.7 L904.2,481.5 L892.7,455" stroke="#000" stroke-width="1.2" fill="none" />
<rect x="842.1" y="430.4" width="9.6" height="23" fill="#fff" stroke="#000" stroke-width="1.3"/>
<circle cx="846.9" cy="436.2" r="3.9" fill="#000"/><circle cx="846.9" cy="436.2" r="2.2" fill="#555"/>
<circle cx="846.9" cy="448.1" r="3.9" fill="#000"/><circle cx="846.9" cy="448.1" r="2.2" fill="#555"/>
<rect x="845.1" y="396" width="3.6" height="24.5" fill="#fff" stroke="#000" stroke-width="1.2"/>
<path d="M845.1,400 L848.7,404 M845.1,406 L848.7,410 M845.1,412 L848.7,416" stroke="#000" stroke-width="1.4"/>
<path d="M853.7,406.5 L853.7,413" stroke="#000" stroke-width="1.2"/><path d="M852.2,412 L853.7,416 L855.2,412 Z" fill="#000"/>
<rect x="845.4" y="453.5" width="3" height="5" fill="#fff" stroke="#000" stroke-width="1.1"/>
<rect x="855.6" y="430.4" width="9.6" height="23" fill="#fff" stroke="#000" stroke-width="1.3"/>
<circle cx="860.4" cy="436.2" r="3.9" fill="#000"/><circle cx="860.4" cy="436.2" r="2.2" fill="#555"/>
<circle cx="860.4" cy="448.1" r="3.9" fill="#000"/><circle cx="860.4" cy="448.1" r="2.2" fill="#555"/>
<rect x="858.6" y="396" width="3.6" height="24.5" fill="#fff" stroke="#000" stroke-width="1.2"/>
<path d="M858.6,400 L862.2,404 M858.6,406 L862.2,410 M858.6,412 L862.2,416" stroke="#000" stroke-width="1.4"/>
<path d="M867.2,406.5 L867.2,413" stroke="#000" stroke-width="1.2"/><path d="M865.7,412 L867.2,416 L868.7,412 Z" fill="#000"/>
<rect x="858.9" y="453.5" width="3" height="5" fill="#fff" stroke="#000" stroke-width="1.1"/>
<rect x="869.0" y="430.4" width="9.6" height="23" fill="#fff" stroke="#000" stroke-width="1.3"/>
<circle cx="873.8" cy="436.2" r="3.9" fill="#000"/><circle cx="873.8" cy="436.2" r="2.2" fill="#555"/>
<circle cx="873.8" cy="448.1" r="3.9" fill="#000"/><circle cx="873.8" cy="448.1" r="2.2" fill="#555"/>
<rect x="872.0" y="396" width="3.6" height="24.5" fill="#fff" stroke="#000" stroke-width="1.2"/>
<path d="M872.0,400 L875.6,404 M872.0,406 L875.6,410 M872.0,412 L875.6,416" stroke="#000" stroke-width="0.6"/>
<path d="M880.6,406.5 L880.6,413" stroke="#000" stroke-width="1.2"/><path d="M879.1,412 L880.6,416 L882.1,412 Z" fill="#000"/>
<rect x="872.3" y="453.5" width="3" height="5" fill="#fff" stroke="#000" stroke-width="1.1"/>
<text x="845.2" y="428.3" font-family="Liberation Sans" font-size="5.5" text-anchor="start" >L</text>
<text x="871.7" y="428.3" font-family="Liberation Sans" font-size="5.5" text-anchor="start" >N</text>
<text x="845.2" y="466.3" font-family="Liberation Sans" font-size="5.5" text-anchor="start" >L</text>
<text x="871.7" y="466.3" font-family="Liberation Sans" font-size="5.5" text-anchor="start" >N</text>
<circle cx="860.4" cy="425.4" r="4" fill="#fff" stroke="#000" stroke-width="1.2"/><path d="M856.4,425.4 L864.4,425.4 M860.4,421.4 L860.4,425.4" stroke="#000" stroke-width="1"/>
<circle cx="860.4" cy="464.6" r="4" fill="#fff" stroke="#000" stroke-width="1.2"/><path d="M856.4,464.6 L864.4,464.6 M860.4,460.6 L860.4,464.6" stroke="#000" stroke-width="1"/>
<rect x="851.5" y="440.5" width="4" height="3.5" fill="#fff" stroke="#000" stroke-width="0.8"/><rect x="865" y="440.5" width="4" height="3.5" fill="#fff" stroke="#000" stroke-width="0.8"/>
<circle cx="958.6" cy="551.0" r="87.0" stroke="#000" stroke-width="1.2" fill="none" />
<rect x="959.5" y="405.5" width="17.6" height="50" rx="4" fill="#fff" stroke="#000" stroke-width="1.2"/>
<path d="M963.5,410 L963.5,450 M968.3,407 L968.3,453 M973,410 L973,450" stroke="#000" stroke-width="0.9" fill="none" />
<rect x="958.2" y="455.4" width="19.8" height="4.8" rx="2.4" fill="#fff" stroke="#000" stroke-width="1.2"/>
<path d="M966.1,460.2 L966.1,517 L968.3,522.8 L970.5,517 L970.5,460.2" stroke="#000" stroke-width="0.9" fill="#fff" />
<path d="M963,474 C972,472 980,476 978,483 C976,489 968,491 959,491" stroke="#000" stroke-width="2.0" fill="none" />
<polygon points="953,490.5 962,485.5 961,495" fill="#000"/>
<polygon points="995.5,465.5 999.3,465.5 999.3,494 1003,494 997.4,508 991.5,494 995.5,494" fill="#000"/>
<polygon points="914.3,493.5 929.0,504.1 927.2,506.5 935.5,507.0 932.5,499.2 930.7,501.7 916.1,491.1" fill="#fff" stroke="#000" stroke-width="1" stroke-linejoin="round"/>
<polygon points="883.9,514.7 898.6,525.4 896.8,527.8 905.1,528.3 902.1,520.5 900.3,523.0 885.7,512.3" fill="#fff" stroke="#000" stroke-width="1" stroke-linejoin="round"/>
<polygon points="1029.8,582.7 1015.2,573.1 1016.8,570.6 1008.5,570.5 1011.9,578.1 1013.5,575.6 1028.2,585.3" fill="#fff" stroke="#000" stroke-width="1" stroke-linejoin="round"/>
<polygon points="1013.5,608.6 994.1,601.9 995.1,599.0 987.0,601.0 992.1,607.5 993.1,604.7 1012.5,611.4" fill="#fff" stroke="#000" stroke-width="1" stroke-linejoin="round"/>
<polygon points="927.5,558.5 955.5,580.0 989.0,556.5 966.0,539.5" stroke="#000" stroke-width="1.4" fill="#fff" stroke-linejoin="round" />
<path d="M927.5,559.8 L955.5,581.3 L989,557.8" stroke="#000" stroke-width="2.8" fill="none" />
<polygon points="935.5,546.0 955.0,530.0 977.0,545.0 977.0,556.0 958.0,570.0 935.5,556.0" stroke="#000" stroke-width="1.4" fill="#fff" stroke-linejoin="round" />
<path d="M935.5,546 L958,561 L977,545 M958,561 L958,570" stroke="#000" stroke-width="1.3" fill="none" />
<path d="M958,570 L958,573 L961,571" stroke="#000" stroke-width="1.2" fill="none" />
<rect x="956" y="563" width="3" height="4" fill="#000"/>
<path d="M957.9,530.5 L957.9,538.5 Q961.5,540.5 965.1,538.5 L965.1,530.5" fill="#fff" stroke="#000" stroke-width="1.5"/>
<ellipse cx="961.5" cy="530.5" rx="3.6" ry="2" fill="#fff" stroke="#000" stroke-width="1.5"/>
<path d="M964.9,536.5 L964.9,544.5 Q968.5,546.5 972.1,544.5 L972.1,536.5" fill="#fff" stroke="#000" stroke-width="1.5"/>
<ellipse cx="968.5" cy="536.5" rx="3.6" ry="2" fill="#fff" stroke="#000" stroke-width="1.5"/>
<path d="M947.9,536.5 L947.9,544.5 Q951.5,546.5 955.1,544.5 L955.1,536.5" fill="#fff" stroke="#000" stroke-width="1.5"/>
<ellipse cx="951.5" cy="536.5" rx="3.6" ry="2" fill="#fff" stroke="#000" stroke-width="1.5"/>
<path d="M955.9,542.0 L955.9,550.0 Q959.5,552.0 963.1,550.0 L963.1,542.0" fill="#fff" stroke="#000" stroke-width="1.5"/>
<ellipse cx="959.5" cy="542.0" rx="3.6" ry="2" fill="#fff" stroke="#000" stroke-width="1.5"/>
<path d="M939.9,543.0 L939.9,551.0 Q943.5,553.0 947.1,551.0 L947.1,543.0" fill="#fff" stroke="#000" stroke-width="1.5"/>
<ellipse cx="943.5" cy="543.0" rx="3.6" ry="2" fill="#fff" stroke="#000" stroke-width="1.5"/>
<path d="M946.9,549.0 L946.9,557.0 Q950.5,559.0 954.1,557.0 L954.1,549.0" fill="#fff" stroke="#000" stroke-width="1.5"/>
<ellipse cx="950.5" cy="549.0" rx="3.6" ry="2" fill="#fff" stroke="#000" stroke-width="1.5"/>
<circle cx="970" cy="566" r="2.2" fill="#000"/>
<path d="M974,554 L974,566 M968,560 L979,556" stroke="#000" stroke-width="1.3" fill="none" />
<polygon points="907,510 912,506.5 916.5,512.5 911.5,516.5" fill="#fff" stroke="#000" stroke-width="1.3"/>
<path d="M915,513 C925,518 942,521 954,530 M913,515 C920,525 925,540 933,544" stroke="#000" stroke-width="3.0" fill="none" />
<path d="M915,513 C925,518 942,521 954,530 M913,515 C920,525 925,540 933,544" stroke="#fff" stroke-width="1.1" fill="none" />
<path d="M932,543 L925,548 M953,529 L947,533" stroke="#000" stroke-width="1.2" fill="none" />
<polygon points="1008,596 1013,591.5 1017.5,597 1012.5,601" fill="#fff" stroke="#000" stroke-width="1.3"/>
<path d="M1009,595 C1010,584 1000,572 989,566.5 M1009,596 L981,572.5 M1009,597 C998,596 985,588 974,580.5" stroke="#000" stroke-width="3.0" fill="none" />
<path d="M1009,595 C1010,584 1000,572 989,566.5 M1009,596 L981,572.5 M1009,597 C998,596 985,588 974,580.5" stroke="#fff" stroke-width="1.1" fill="none" />
<g transform="matrix(0.7159,-0.0833,-0.0283,0.8649,171.68,617.06)"><path d="M413.2,165.4 L388.6,180.8 L388.6,191.8 Q397,191.5 405.8,189.4 L413.2,184.5" fill="#fff" stroke="#000" stroke-width="1.0" vector-effect="non-scaling-stroke" stroke-linejoin="round"/><path d="M413.2,165.4 L513.5,222 M415,167.6 L512,224 M405.8,189.4 L489.5,236.8 M413.2,165.4 L413.2,184.5" fill="none" stroke="#000" stroke-width="1.0" vector-effect="non-scaling-stroke"/><path d="M489.5,236.8 L513.5,222 L514.2,238 Q503,247 490.8,250.3 Z" fill="#fff" stroke="#000" stroke-width="1.0" vector-effect="non-scaling-stroke" stroke-linejoin="round"/><path d="M515.5,223.5 L515.5,238.5" fill="none" stroke="#000" stroke-width="0.8" vector-effect="non-scaling-stroke"/><ellipse cx="400.3" cy="180.8" rx="1.6" ry="1.3" fill="none" stroke="#000" stroke-width="1.3" vector-effect="non-scaling-stroke"/><ellipse cx="501.8" cy="238.6" rx="1.5" ry="1.8" fill="none" stroke="#000" stroke-width="1.3" vector-effect="non-scaling-stroke"/></g>
<ellipse cx="465.5" cy="735.5" rx="2.8" ry="2.4" stroke="#000" stroke-width="1.0" fill="#fff" />
<path d="M464,734 L467,737" stroke="#000" stroke-width="0.8" fill="none" />
<path d="M509,762 Q507,758.5 511,759.5 L519,763.5 Q522,766 519,767.5 Q516,768 513,766 Z" stroke="#000" stroke-width="0.9" fill="#fff" />
<ellipse cx="513.7" cy="764.3" rx="2.8" ry="2.4" stroke="#000" stroke-width="1.0" fill="#fff" />
<path d="M425.9,837 A60,32 0 0 1 545.9,837 L545.9,866 A60,33 0 0 1 425.9,866 Z" fill="#fff" stroke="#000" stroke-width="1.2"/>
<ellipse cx="485.9" cy="866" rx="60" ry="33" fill="none" stroke="#000" stroke-width="1.2"/>
<ellipse cx="485.9" cy="868" rx="56.5" ry="29.5" fill="none" stroke="#000" stroke-width="1.1"/>
<path d="M436,725.7 L454.5,828.2 L443.5,821" stroke="#000" stroke-width="0.9" fill="none" stroke-dasharray="6,2"/>
<path d="M529.2,780.2 L542.2,786.6 L529.2,872.5" stroke="#000" stroke-width="0.9" fill="none" stroke-dasharray="6,2"/>
<path d="M529.2,872.5 L540,880 L573.6,894.6" stroke="#000" stroke-width="0.8" fill="none" stroke-dasharray="4,2"/>
<rect x="441.5" y="820" width="5.5" height="8" rx="2.5" fill="#fff" stroke="#000" stroke-width="1.1"/>
<path d="M424,812 L443.4,820.8" stroke="#000" stroke-width="0.8" fill="none" stroke-dasharray="4,2"/>
<rect x="477.5" y="864.2" width="17.6" height="18.4" rx="3" fill="#fff" stroke="#000" stroke-width="1.2"/>
<path d="M477.5,877.5 L495.1,877.5" stroke="#000" stroke-width="1.0" fill="none" />
<path d="M482.2,882.6 L482.2,934 M490.5,882.6 L490.5,934" stroke="#000" stroke-width="1.2" fill="none" />
<path d="M478,937 Q482,932 486,934 Q490,936 493,932" stroke="#000" stroke-width="1.0" fill="none" />
<g transform="translate(417.5,807) rotate(28)"><rect x="-1" y="-3" width="8" height="6" fill="#000"/><ellipse cx="-2.5" cy="0" rx="3" ry="5.5" fill="#000"/><path d="M-4,-3 L-1,3 M1,-3 L4,3" stroke="#fff" stroke-width="0.8"/></g>
<g transform="translate(569.6,893.8) rotate(28)"><rect x="-1" y="-3" width="8" height="6" fill="#000"/><ellipse cx="-2.5" cy="0" rx="3" ry="5.5" fill="#000"/><path d="M-4,-3 L-1,3 M1,-3 L4,3" stroke="#fff" stroke-width="0.8"/></g>
<g transform="translate(281.5,729.5) rotate(29.5)"><rect x="-6" y="-10" width="56" height="20" rx="4.5" fill="#fff" stroke="#000" stroke-width="1.2"/><path d="M-4,-5 L47,-5 M-4,5 L47,5" stroke="#000" stroke-width="1.0"/><path d="M50,-6 L54,-6 L54,6 L50,6" fill="#fff" stroke="#000" stroke-width="1.1"/><rect x="52" y="-11" width="6.5" height="22" rx="3" fill="#fff" stroke="#000" stroke-width="1.2"/><path d="M58.5,-2.6 L138,-2.6 L143,0 L138,2.6 L58.5,2.6" fill="#fff" stroke="#000" stroke-width="0.8"/></g>
<path d="M347.9,795.5 L377,813" stroke="#000" stroke-width="1.0" fill="none" />
<polygon points="375,808.5 386,817.7 373,815" fill="#000"/>
<path d="M350,807.3 Q356,793 366.6,792 Q366,800 362.5,810.8" stroke="#000" stroke-width="1.1" fill="none" />
<polygon points="363,797 368,800 361,812" fill="#000"/>
<path d="M411.3,917.6 L411.3,880" stroke="#000" stroke-width="1.0" fill="none" />
<polygon points="408.8,887 411.3,874.9 413.8,887" fill="#000"/>
<path d="M841.1,672 L841.1,714 M848.8,672 L848.8,714" stroke="#000" stroke-width="1.1" fill="none" />
<path d="M826,716.5 Q828,713.3 845,713.3 Q862.5,713.3 865,716.5 Q866.5,724.5 856,725.3 L834,725.5 Q824,724.5 826,716.5 Z" fill="#fff" stroke="#000" stroke-width="1.3"/>
<path d="M826,722 Q845,718 865,721.5" fill="none" stroke="#000" stroke-width="1.1"/>
<path d="M836.5,720.2 L853,720.2 L856.5,728.6 L832.5,728.6 Z" fill="#fff" stroke="#000" stroke-width="1.2"/>
<rect x="832.2" y="728.6" width="25.3" height="31" rx="1.5" fill="#000"/>
<rect x="841" y="729.3" width="7.5" height="19.5" fill="#fff"/>
<rect x="834" y="755.7" width="22" height="2.8" fill="#fff"/>
<circle cx="835" cy="733" r="0.5" fill="#fff" fill-opacity="0.7"/>
<circle cx="836" cy="742" r="0.5" fill="#fff" fill-opacity="0.7"/>
<circle cx="837" cy="750" r="0.5" fill="#fff" fill-opacity="0.7"/>
<circle cx="853" cy="737" r="0.5" fill="#fff" fill-opacity="0.7"/>
<circle cx="852" cy="746" r="0.5" fill="#fff" fill-opacity="0.7"/>
<circle cx="854" cy="752" r="0.5" fill="#fff" fill-opacity="0.7"/>
<circle cx="850" cy="733" r="0.5" fill="#fff" fill-opacity="0.7"/>
<path d="M830.68,771.50 L825.37,773.01 L820.22,774.98 L815.24,777.41 L810.47,780.28 L805.96,783.57 L801.73,787.25 L797.82,791.29 L794.25,795.67 L791.06,800.35 L788.25,805.31 L785.86,810.49 L783.90,815.87 L782.39,821.41 L781.33,827.06 L780.74,832.79 L780.61,838.55 L780.96,844.30 L781.77,850.00 L783.05,855.60 L784.77,861.07 L786.94,866.36 L789.53,871.44 L792.52,876.27 L795.90,880.82 L799.63,885.04 L803.70,888.91 L808.07,892.41 L812.70,895.50 L876.90,895.50 L881.53,892.41 L885.90,888.91 L889.97,885.04 L893.70,880.82 L897.08,876.27 L900.07,871.44 L902.66,866.36 L904.83,861.07 L906.55,855.60 L907.83,850.00 L908.64,844.30 L908.99,838.55 L908.86,832.79 L908.27,827.06 L907.21,821.41 L905.70,815.87 L903.74,810.49 L901.35,805.31 L898.54,800.35 L895.35,795.67 L891.78,791.29 L887.87,787.25 L883.64,783.57 L879.13,780.28 L874.36,777.41 L869.38,774.98 L864.23,773.01 L858.92,771.50 Z" fill="#fff" stroke="#000" stroke-width="1.15" stroke-linejoin="round"/><path d="M830.90,771.50 L825.69,773.01 L820.61,774.98 L815.71,777.41 L811.03,780.28 L806.59,783.57 L802.43,787.25 L798.58,791.29 L795.07,795.67 L791.92,800.35 L789.16,805.31 L786.81,810.49 L784.88,815.87 L783.39,821.41 L782.35,827.06 L781.77,832.79 L781.64,838.55 L781.98,844.30 L782.78,850.00 L784.04,855.60 L785.74,861.07 L787.87,866.36 L790.42,871.44 L793.36,876.27 L796.69,880.82 L800.36,885.04 L804.36,888.91 L808.66,892.41 L813.22,895.50" fill="none" stroke="#000" stroke-width="1.4"/><path d="M831.56,771.50 L826.59,773.01 L821.76,774.98 L817.09,777.41 L812.63,780.28 L808.40,783.57 L804.44,787.25 L800.77,791.29 L797.43,795.67 L794.43,800.35 L791.80,805.31 L789.56,810.49 L787.72,815.87 L786.31,821.41 L785.31,827.06 L784.76,832.79 L784.64,838.55 L784.97,844.30 L785.73,850.00 L786.92,855.60 L788.54,861.07 L790.57,866.36 L793.00,871.44 L795.81,876.27 L798.97,880.82 L802.47,885.04 L806.28,888.91 L810.37,892.41 L814.72,895.50" fill="none" stroke="#000" stroke-width="1.4"/><path d="M832.18,771.50 L827.44,773.01 L822.83,774.98 L818.38,777.41 L814.12,780.28 L810.09,783.57 L806.32,787.25 L802.82,791.29 L799.63,795.67 L796.77,800.35 L794.27,805.31 L792.13,810.49 L790.38,815.87 L789.02,821.41 L788.08,827.06 L787.55,832.79 L787.44,838.55 L787.75,844.30 L788.48,850.00 L789.62,855.60 L791.16,861.07 L793.09,866.36 L795.41,871.44 L798.08,876.27 L801.10,880.82 L804.44,885.04 L808.07,888.91 L811.97,892.41 L816.11,895.50" fill="none" stroke="#000" stroke-width="1.4"/><path d="M832.84,771.50 L828.35,773.01 L823.98,774.98 L819.76,777.41 L815.73,780.28 L811.91,783.57 L808.33,787.25 L805.01,791.29 L801.99,795.67 L799.28,800.35 L796.91,805.31 L794.88,810.49 L793.22,815.87 L791.94,821.41 L791.05,827.06 L790.54,832.79 L790.44,838.55 L790.73,844.30 L791.42,850.00 L792.50,855.60 L793.96,861.07 L795.80,866.36 L797.99,871.44 L800.53,876.27 L803.39,880.82 L806.55,885.04 L809.99,888.91 L813.69,892.41 L817.61,895.50" fill="none" stroke="#000" stroke-width="1.4"/><path d="M833.66,771.50 L829.48,773.01 L825.41,774.98 L821.49,777.41 L817.73,780.28 L814.17,783.57 L810.84,787.25 L807.75,791.29 L804.94,795.67 L802.42,800.35 L800.20,805.31 L798.32,810.49 L796.77,815.87 L795.58,821.41 L794.75,827.06 L794.28,832.79 L794.18,838.55 L794.45,844.30 L795.09,850.00 L796.10,855.60 L797.46,861.07 L799.17,866.36 L801.21,871.44 L803.57,876.27 L806.24,880.82 L809.18,885.04 L812.39,888.91 L815.83,892.41 L819.48,895.50" fill="none" stroke="#000" stroke-width="1.4"/><path d="M834.32,771.50 L830.39,773.01 L826.56,774.98 L822.87,777.41 L819.33,780.28 L815.99,783.57 L812.85,787.25 L809.95,791.29 L807.30,795.67 L804.93,800.35 L802.85,805.31 L801.07,810.49 L799.62,815.87 L798.50,821.41 L797.71,827.06 L797.27,832.79 L797.18,838.55 L797.44,844.30 L798.04,850.00 L798.99,855.60 L800.27,861.07 L801.87,866.36 L803.79,871.44 L806.02,876.27 L808.52,880.82 L811.29,885.04 L814.31,888.91 L817.55,892.41 L820.98,895.50" fill="none" stroke="#000" stroke-width="1.4"/><path d="M835.34,771.50 L831.78,773.01 L828.33,774.98 L824.99,777.41 L821.80,780.28 L818.78,783.57 L815.94,787.25 L813.32,791.29 L810.93,795.67 L808.79,800.35 L806.91,805.31 L805.31,810.49 L803.99,815.87 L802.98,821.41 L802.27,827.06 L801.87,832.79 L801.79,838.55 L802.02,844.30 L802.57,850.00 L803.42,855.60 L804.58,861.07 L806.03,866.36 L807.76,871.44 L809.77,876.27 L812.03,880.82 L814.54,885.04 L817.26,888.91 L820.19,892.41 L823.29,895.50" fill="none" stroke="#000" stroke-width="1.4"/><path d="M836.00,771.50 L832.69,773.01 L829.48,774.98 L826.37,777.41 L823.40,780.28 L820.59,783.57 L817.96,787.25 L815.52,791.29 L813.29,795.67 L811.30,800.35 L809.55,805.31 L808.06,810.49 L806.84,815.87 L805.90,821.41 L805.24,827.06 L804.87,832.79 L804.79,838.55 L805.01,844.30 L805.51,850.00 L806.31,855.60 L807.38,861.07 L808.73,866.36 L810.35,871.44 L812.21,876.27 L814.32,880.82 L816.65,885.04 L819.18,888.91 L821.90,892.41 L824.79,895.50" fill="none" stroke="#000" stroke-width="1.4"/><path d="M837.18,771.50 L834.32,773.01 L831.53,774.98 L828.85,777.41 L826.28,780.28 L823.84,783.57 L821.56,787.25 L819.45,791.29 L817.52,795.67 L815.80,800.35 L814.29,805.31 L812.99,810.49 L811.94,815.87 L811.12,821.41 L810.55,827.06 L810.23,832.79 L810.16,838.55 L810.35,844.30 L810.79,850.00 L811.48,855.60 L812.41,861.07 L813.58,866.36 L814.97,871.44 L816.59,876.27 L818.41,880.82 L820.43,885.04 L822.62,888.91 L824.98,892.41 L827.48,895.50" fill="none" stroke="#000" stroke-width="1.4"/><path d="M837.84,771.50 L835.23,773.01 L832.68,774.98 L830.23,777.41 L827.88,780.28 L825.66,783.57 L823.57,787.25 L821.65,791.29 L819.89,795.67 L818.31,800.35 L816.93,805.31 L815.75,810.49 L814.78,815.87 L814.04,821.41 L813.52,827.06 L813.22,832.79 L813.16,838.55 L813.33,844.30 L813.73,850.00 L814.36,855.60 L815.21,861.07 L816.28,866.36 L817.56,871.44 L819.03,876.27 L820.70,880.82 L822.54,885.04 L824.54,888.91 L826.69,892.41 L828.98,895.50" fill="none" stroke="#000" stroke-width="1.4"/><path d="M839.16,771.50 L837.04,773.01 L834.98,774.98 L832.99,777.41 L831.09,780.28 L829.29,783.57 L827.60,787.25 L826.04,791.29 L824.61,795.67 L823.33,800.35 L822.21,805.31 L821.26,810.49 L820.48,815.87 L819.87,821.41 L819.45,827.06 L819.21,832.79 L819.16,838.55 L819.30,844.30 L819.63,850.00 L820.13,855.60 L820.82,861.07 L821.69,866.36 L822.72,871.44 L823.92,876.27 L825.27,880.82 L826.76,885.04 L828.38,888.91 L830.13,892.41 L831.98,895.50" fill="none" stroke="#000" stroke-width="1.4"/><path d="M839.82,771.50 L837.95,773.01 L836.13,774.98 L834.37,777.41 L832.69,780.28 L831.10,783.57 L829.61,787.25 L828.23,791.29 L826.97,795.67 L825.84,800.35 L824.86,805.31 L824.01,810.49 L823.32,815.87 L822.79,821.41 L822.41,827.06 L822.21,832.79 L822.16,838.55 L822.28,844.30 L822.57,850.00 L823.02,855.60 L823.63,861.07 L824.39,866.36 L825.31,871.44 L826.36,876.27 L827.55,880.82 L828.87,885.04 L830.30,888.91 L831.84,892.41 L833.48,895.50" fill="none" stroke="#000" stroke-width="1.4"/><path d="M841.24,771.50 L839.91,773.01 L838.61,774.98 L837.35,777.41 L836.15,780.28 L835.01,783.57 L833.95,787.25 L832.96,791.29 L832.06,795.67 L831.26,800.35 L830.55,805.31 L829.95,810.49 L829.45,815.87 L829.07,821.41 L828.81,827.06 L828.66,832.79 L828.63,838.55 L828.71,844.30 L828.92,850.00 L829.24,855.60 L829.67,861.07 L830.22,866.36 L830.87,871.44 L831.63,876.27 L832.48,880.82 L833.42,885.04 L834.44,888.91 L835.54,892.41 L836.71,895.50" fill="none" stroke="#000" stroke-width="1.4"/><path d="M841.90,771.50 L840.81,773.01 L839.75,774.98 L838.73,777.41 L837.75,780.28 L836.83,783.57 L835.96,787.25 L835.16,791.29 L834.43,795.67 L833.77,800.35 L833.19,805.31 L832.70,810.49 L832.30,815.87 L831.99,821.41 L831.77,827.06 L831.65,832.79 L831.63,838.55 L831.70,844.30 L831.86,850.00 L832.13,855.60 L832.48,861.07 L832.92,866.36 L833.46,871.44 L834.07,876.27 L834.76,880.82 L835.53,885.04 L836.36,888.91 L837.26,892.41 L838.21,895.50" fill="none" stroke="#000" stroke-width="1.4"/><path d="M843.39,771.50 L842.86,773.01 L842.34,774.98 L841.84,777.41 L841.36,780.28 L840.91,783.57 L840.49,787.25 L840.10,791.29 L839.74,795.67 L839.42,800.35 L839.14,805.31 L838.90,810.49 L838.71,815.87 L838.55,821.41 L838.45,827.06 L838.39,832.79 L838.38,838.55 L838.41,844.30 L838.49,850.00 L838.62,855.60 L838.79,861.07 L839.01,866.36 L839.27,871.44 L839.57,876.27 L839.91,880.82 L840.28,885.04 L840.69,888.91 L841.12,892.41 L841.59,895.50" fill="none" stroke="#000" stroke-width="1.4"/><path d="M844.05,771.50 L843.76,773.01 L843.49,774.98 L843.22,777.41 L842.97,780.28 L842.73,783.57 L842.50,787.25 L842.29,791.29 L842.10,795.67 L841.93,800.35 L841.78,805.31 L841.66,810.49 L841.55,815.87 L841.47,821.41 L841.41,827.06 L841.38,832.79 L841.38,838.55 L841.39,844.30 L841.44,850.00 L841.51,855.60 L841.60,861.07 L841.71,866.36 L841.85,871.44 L842.01,876.27 L842.19,880.82 L842.39,885.04 L842.61,888.91 L842.84,892.41 L843.09,895.50" fill="none" stroke="#000" stroke-width="1.4"/><path d="M845.55,771.50 L845.84,773.01 L846.11,774.98 L846.38,777.41 L846.63,780.28 L846.87,783.57 L847.10,787.25 L847.31,791.29 L847.50,795.67 L847.67,800.35 L847.82,805.31 L847.94,810.49 L848.05,815.87 L848.13,821.41 L848.19,827.06 L848.22,832.79 L848.22,838.55 L848.21,844.30 L848.16,850.00 L848.09,855.60 L848.00,861.07 L847.89,866.36 L847.75,871.44 L847.59,876.27 L847.41,880.82 L847.21,885.04 L846.99,888.91 L846.76,892.41 L846.51,895.50" fill="none" stroke="#000" stroke-width="1.4"/><path d="M846.21,771.50 L846.74,773.01 L847.26,774.98 L847.76,777.41 L848.24,780.28 L848.69,783.57 L849.11,787.25 L849.50,791.29 L849.86,795.67 L850.18,800.35 L850.46,805.31 L850.70,810.49 L850.89,815.87 L851.05,821.41 L851.15,827.06 L851.21,832.79 L851.22,838.55 L851.19,844.30 L851.11,850.00 L850.98,855.60 L850.81,861.07 L850.59,866.36 L850.33,871.44 L850.03,876.27 L849.69,880.82 L849.32,885.04 L848.91,888.91 L848.48,892.41 L848.01,895.50" fill="none" stroke="#000" stroke-width="1.4"/><path d="M847.70,771.50 L848.79,773.01 L849.85,774.98 L850.87,777.41 L851.85,780.28 L852.77,783.57 L853.64,787.25 L854.44,791.29 L855.17,795.67 L855.83,800.35 L856.41,805.31 L856.90,810.49 L857.30,815.87 L857.61,821.41 L857.83,827.06 L857.95,832.79 L857.97,838.55 L857.90,844.30 L857.74,850.00 L857.47,855.60 L857.12,861.07 L856.68,866.36 L856.14,871.44 L855.53,876.27 L854.84,880.82 L854.07,885.04 L853.24,888.91 L852.34,892.41 L851.39,895.50" fill="none" stroke="#000" stroke-width="1.4"/><path d="M848.36,771.50 L849.69,773.01 L850.99,774.98 L852.25,777.41 L853.45,780.28 L854.59,783.57 L855.65,787.25 L856.64,791.29 L857.54,795.67 L858.34,800.35 L859.05,805.31 L859.65,810.49 L860.15,815.87 L860.53,821.41 L860.79,827.06 L860.94,832.79 L860.97,838.55 L860.89,844.30 L860.68,850.00 L860.36,855.60 L859.93,861.07 L859.38,866.36 L858.73,871.44 L857.97,876.27 L857.12,880.82 L856.18,885.04 L855.16,888.91 L854.06,892.41 L852.89,895.50" fill="none" stroke="#000" stroke-width="1.4"/><path d="M849.78,771.50 L851.65,773.01 L853.47,774.98 L855.23,777.41 L856.91,780.28 L858.50,783.57 L859.99,787.25 L861.37,791.29 L862.63,795.67 L863.76,800.35 L864.74,805.31 L865.59,810.49 L866.28,815.87 L866.81,821.41 L867.19,827.06 L867.39,832.79 L867.44,838.55 L867.32,844.30 L867.03,850.00 L866.58,855.60 L865.97,861.07 L865.21,866.36 L864.29,871.44 L863.24,876.27 L862.05,880.82 L860.73,885.04 L859.30,888.91 L857.76,892.41 L856.12,895.50" fill="none" stroke="#000" stroke-width="1.4"/><path d="M850.44,771.50 L852.56,773.01 L854.62,774.98 L856.61,777.41 L858.51,780.28 L860.31,783.57 L862.00,787.25 L863.56,791.29 L864.99,795.67 L866.27,800.35 L867.39,805.31 L868.34,810.49 L869.12,815.87 L869.73,821.41 L870.15,827.06 L870.39,832.79 L870.44,838.55 L870.30,844.30 L869.97,850.00 L869.47,855.60 L868.78,861.07 L867.91,866.36 L866.88,871.44 L865.68,876.27 L864.33,880.82 L862.84,885.04 L861.22,888.91 L859.47,892.41 L857.62,895.50" fill="none" stroke="#000" stroke-width="1.4"/><path d="M851.76,771.50 L854.37,773.01 L856.92,774.98 L859.37,777.41 L861.72,780.28 L863.94,783.57 L866.03,787.25 L867.95,791.29 L869.71,795.67 L871.29,800.35 L872.67,805.31 L873.85,810.49 L874.82,815.87 L875.56,821.41 L876.08,827.06 L876.38,832.79 L876.44,838.55 L876.27,844.30 L875.87,850.00 L875.24,855.60 L874.39,861.07 L873.32,866.36 L872.04,871.44 L870.57,876.27 L868.90,880.82 L867.06,885.04 L865.06,888.91 L862.91,892.41 L860.62,895.50" fill="none" stroke="#000" stroke-width="1.4"/><path d="M852.42,771.50 L855.28,773.01 L858.07,774.98 L860.75,777.41 L863.32,780.28 L865.76,783.57 L868.04,787.25 L870.15,791.29 L872.08,795.67 L873.80,800.35 L875.31,805.31 L876.61,810.49 L877.66,815.87 L878.48,821.41 L879.05,827.06 L879.37,832.79 L879.44,838.55 L879.25,844.30 L878.81,850.00 L878.12,855.60 L877.19,861.07 L876.02,866.36 L874.63,871.44 L873.01,876.27 L871.19,880.82 L869.17,885.04 L866.98,888.91 L864.62,892.41 L862.12,895.50" fill="none" stroke="#000" stroke-width="1.4"/><path d="M853.60,771.50 L856.91,773.01 L860.12,774.98 L863.23,777.41 L866.20,780.28 L869.01,783.57 L871.64,787.25 L874.08,791.29 L876.31,795.67 L878.30,800.35 L880.05,805.31 L881.54,810.49 L882.76,815.87 L883.70,821.41 L884.36,827.06 L884.73,832.79 L884.81,838.55 L884.59,844.30 L884.09,850.00 L883.29,855.60 L882.22,861.07 L880.87,866.36 L879.25,871.44 L877.39,876.27 L875.28,880.82 L872.95,885.04 L870.42,888.91 L867.70,892.41 L864.81,895.50" fill="none" stroke="#000" stroke-width="1.4"/><path d="M854.26,771.50 L857.82,773.01 L861.27,774.98 L864.61,777.41 L867.80,780.28 L870.82,783.57 L873.66,787.25 L876.28,791.29 L878.67,795.67 L880.81,800.35 L882.69,805.31 L884.29,810.49 L885.61,815.87 L886.62,821.41 L887.33,827.06 L887.73,832.79 L887.81,838.55 L887.58,844.30 L887.03,850.00 L886.18,855.60 L885.02,861.07 L883.57,866.36 L881.84,871.44 L879.83,876.27 L877.57,880.82 L875.06,885.04 L872.34,888.91 L869.41,892.41 L866.31,895.50" fill="none" stroke="#000" stroke-width="1.4"/><path d="M855.28,771.50 L859.21,773.01 L863.04,774.98 L866.73,777.41 L870.27,780.28 L873.61,783.57 L876.75,787.25 L879.65,791.29 L882.30,795.67 L884.67,800.35 L886.75,805.31 L888.53,810.49 L889.98,815.87 L891.10,821.41 L891.89,827.06 L892.33,832.79 L892.42,838.55 L892.16,844.30 L891.56,850.00 L890.61,855.60 L889.33,861.07 L887.73,866.36 L885.81,871.44 L883.58,876.27 L881.08,880.82 L878.31,885.04 L875.29,888.91 L872.05,892.41 L868.62,895.50" fill="none" stroke="#000" stroke-width="1.4"/><path d="M855.94,771.50 L860.12,773.01 L864.19,774.98 L868.11,777.41 L871.87,780.28 L875.43,783.57 L878.76,787.25 L881.85,791.29 L884.66,795.67 L887.18,800.35 L889.40,805.31 L891.28,810.49 L892.83,815.87 L894.02,821.41 L894.85,827.06 L895.32,832.79 L895.42,838.55 L895.15,844.30 L894.51,850.00 L893.50,855.60 L892.14,861.07 L890.43,866.36 L888.39,871.44 L886.03,876.27 L883.36,880.82 L880.42,885.04 L877.21,888.91 L873.77,892.41 L870.12,895.50" fill="none" stroke="#000" stroke-width="1.4"/><path d="M856.76,771.50 L861.25,773.01 L865.62,774.98 L869.84,777.41 L873.87,780.28 L877.69,783.57 L881.27,787.25 L884.59,791.29 L887.61,795.67 L890.32,800.35 L892.69,805.31 L894.72,810.49 L896.38,815.87 L897.66,821.41 L898.55,827.06 L899.06,832.79 L899.16,838.55 L898.87,844.30 L898.18,850.00 L897.10,855.60 L895.64,861.07 L893.80,866.36 L891.61,871.44 L889.07,876.27 L886.21,880.82 L883.05,885.04 L879.61,888.91 L875.91,892.41 L871.99,895.50" fill="none" stroke="#000" stroke-width="1.4"/><path d="M857.42,771.50 L862.16,773.01 L866.77,774.98 L871.22,777.41 L875.48,780.28 L879.51,783.57 L883.28,787.25 L886.78,791.29 L889.97,795.67 L892.83,800.35 L895.33,805.31 L897.47,810.49 L899.22,815.87 L900.58,821.41 L901.52,827.06 L902.05,832.79 L902.16,838.55 L901.85,844.30 L901.12,850.00 L899.98,855.60 L898.44,861.07 L896.51,866.36 L894.19,871.44 L891.52,876.27 L888.50,880.82 L885.16,885.04 L881.53,888.91 L877.63,892.41 L873.49,895.50" fill="none" stroke="#000" stroke-width="1.4"/><path d="M858.04,771.50 L863.01,773.01 L867.84,774.98 L872.51,777.41 L876.97,780.28 L881.20,783.57 L885.16,787.25 L888.83,791.29 L892.17,795.67 L895.17,800.35 L897.80,805.31 L900.04,810.49 L901.88,815.87 L903.29,821.41 L904.29,827.06 L904.84,832.79 L904.96,838.55 L904.63,844.30 L903.87,850.00 L902.68,855.60 L901.06,861.07 L899.03,866.36 L896.60,871.44 L893.79,876.27 L890.63,880.82 L887.13,885.04 L883.32,888.91 L879.23,892.41 L874.88,895.50" fill="none" stroke="#000" stroke-width="1.4"/><path d="M858.70,771.50 L863.91,773.01 L868.99,774.98 L873.89,777.41 L878.57,780.28 L883.01,783.57 L887.17,787.25 L891.02,791.29 L894.53,795.67 L897.68,800.35 L900.44,805.31 L902.79,810.49 L904.72,815.87 L906.21,821.41 L907.25,827.06 L907.83,832.79 L907.96,838.55 L907.62,844.30 L906.82,850.00 L905.56,855.60 L903.86,861.07 L901.73,866.36 L899.18,871.44 L896.24,876.27 L892.91,880.82 L889.24,885.04 L885.24,888.91 L880.94,892.41 L876.38,895.50" fill="none" stroke="#000" stroke-width="1.4"/><ellipse cx="844.80" cy="889.20" rx="32.10" ry="6.30" fill="none" stroke="#000" stroke-width="1.54"/><path d="M830.68,771.50 L858.92,771.50" stroke="#000" stroke-width="1.96"/>
<path d="M925.7,855.5 L925.7,832" stroke="#000" stroke-width="1.0" fill="none" />
<polygon points="923.2,834.6 925.7,821.7 928.2,834.6" fill="#000"/>
<g transform="translate(943,847.2) scale(0.85,1)"><text x="0" y="0" font-family="Liberation Serif" font-size="22.5" text-anchor="middle">6</text></g>
<g transform="translate(951.5,847.2) scale(0.85,1)"><text x="0" y="0" font-family="Liberation Serif" font-size="22.5" text-anchor="middle">.</text></g>
<g transform="translate(965.8,847.2) scale(0.85,1)"><text x="0" y="0" font-family="Liberation Serif" font-size="22.5" text-anchor="middle">1</text></g>
<path d="M826,916.5 Q845,912 864.2,916.5 Q864,922 858,924 L858,941.5 Q845,944.5 832,941.5 L832,924 Q826,922 826,916.5 Z" fill="#fff" stroke="#000" stroke-width="1.2"/>
<path d="M827,918 Q845,922 863,918" stroke="#000" stroke-width="0.9" fill="none" />
<path d="M832,938.5 Q845,936 858,938.5 L858,942 Q845,945 832,942 Z" fill="#000"/>
<path d="M880.8,924.3 L880.8,950.8" stroke="#000" stroke-width="1"/><path d="M878.7,926.9 L880.8,917.5 L882.9,926.9 Z" fill="#000" stroke="#000" stroke-width="0.6"/><path d="M880.8,944.0 L888.8,944.0" stroke="#000" stroke-width="1"/><path d="M885.0,938.5 L878.2,938.5 Q873.1,939.8 874.0,942.3 Q875.7,944.9 881.6,944.0" fill="none" stroke="#000" stroke-width="1"/><path d="M876.5,936.8 L882.5,938.0 L877.4,940.2 Z" fill="#000" stroke="#000" stroke-width="0.5"/>
<g transform="translate(900.2,944.2) scale(0.85,1)"><text x="0" y="0" font-family="Liberation Serif" font-size="20.5" text-anchor="middle">6</text></g>
<g transform="translate(908.5,944.2) scale(0.85,1)"><text x="0" y="0" font-family="Liberation Serif" font-size="20.5" text-anchor="middle">.</text></g>
<g transform="translate(921.8,944.2) scale(0.85,1)"><text x="0" y="0" font-family="Liberation Serif" font-size="20.5" text-anchor="middle">2</text></g>
<path d="M439.1,963 L439.1,1011 M446,963 L446,1011" stroke="#000" stroke-width="1.1" fill="none" />
<path d="M421.1,1018.4 L421.1,1012 Q442,1008.5 463.6,1012 L463.6,1018.4 Z" fill="#fff" stroke="#000" stroke-width="1.2"/>
<path d="M422.58,1017.50 L417.25,1019.43 L412.10,1021.82 L407.15,1024.64 L402.45,1027.88 L398.02,1031.52 L393.89,1035.52 L390.10,1039.87 L386.67,1044.53 L383.62,1049.47 L380.97,1054.65 L378.75,1060.05 L376.96,1065.62 L375.62,1071.32 L374.75,1077.12 L374.33,1082.98 L374.39,1088.85 L374.91,1094.69 L375.90,1100.47 L377.34,1106.15 L379.23,1111.68 L381.56,1117.03 L384.30,1122.16 L387.44,1127.04 L390.96,1131.62 L394.84,1135.89 L399.04,1139.81 L403.54,1143.36 L408.30,1146.50 L476.30,1146.50 L481.06,1143.36 L485.56,1139.81 L489.76,1135.89 L493.64,1131.62 L497.16,1127.04 L500.30,1122.16 L503.04,1117.03 L505.37,1111.68 L507.26,1106.15 L508.70,1100.47 L509.69,1094.69 L510.21,1088.85 L510.27,1082.98 L509.85,1077.12 L508.98,1071.32 L507.64,1065.62 L505.85,1060.05 L503.63,1054.65 L500.98,1049.47 L497.93,1044.53 L494.50,1039.87 L490.71,1035.52 L486.58,1031.52 L482.15,1027.88 L477.45,1024.64 L472.50,1021.82 L467.35,1019.43 L462.02,1017.50 Z" fill="#fff" stroke="#000" stroke-width="1.15" stroke-linejoin="round"/><path d="M422.95,1017.50 L417.72,1019.43 L412.67,1021.82 L407.81,1024.64 L403.20,1027.88 L398.85,1031.52 L394.80,1035.52 L391.08,1039.87 L387.71,1044.53 L384.72,1049.47 L382.12,1054.65 L379.94,1060.05 L378.19,1065.62 L376.88,1071.32 L376.02,1077.12 L375.61,1082.98 L375.66,1088.85 L376.18,1094.69 L377.15,1100.47 L378.56,1106.15 L380.42,1111.68 L382.70,1117.03 L385.39,1122.16 L388.47,1127.04 L391.93,1131.62 L395.73,1135.89 L399.85,1139.81 L404.26,1143.36 L408.94,1146.50" fill="none" stroke="#000" stroke-width="1.4"/><path d="M423.88,1017.50 L418.90,1019.43 L414.09,1021.82 L409.47,1024.64 L405.07,1027.88 L400.93,1031.52 L397.08,1035.52 L393.54,1039.87 L390.33,1044.53 L387.48,1049.47 L385.01,1054.65 L382.93,1060.05 L381.26,1065.62 L380.01,1071.32 L379.19,1077.12 L378.81,1082.98 L378.86,1088.85 L379.35,1094.69 L380.27,1100.47 L381.62,1106.15 L383.39,1111.68 L385.56,1117.03 L388.12,1122.16 L391.06,1127.04 L394.34,1131.62 L397.96,1135.89 L401.89,1139.81 L406.09,1143.36 L410.54,1146.50" fill="none" stroke="#000" stroke-width="1.4"/><path d="M424.82,1017.50 L420.09,1019.43 L415.52,1021.82 L411.14,1024.64 L406.97,1027.88 L403.04,1031.52 L399.38,1035.52 L396.02,1039.87 L392.98,1044.53 L390.27,1049.47 L387.93,1054.65 L385.96,1060.05 L384.37,1065.62 L383.19,1071.32 L382.41,1077.12 L382.04,1082.98 L382.09,1088.85 L382.56,1094.69 L383.43,1100.47 L384.71,1106.15 L386.39,1111.68 L388.45,1117.03 L390.88,1122.16 L393.67,1127.04 L396.79,1131.62 L400.22,1135.89 L403.94,1139.81 L407.93,1143.36 L412.16,1146.50" fill="none" stroke="#000" stroke-width="1.4"/><path d="M425.74,1017.50 L421.27,1019.43 L416.95,1021.82 L412.79,1024.64 L408.84,1027.88 L405.12,1031.52 L401.66,1035.52 L398.48,1039.87 L395.59,1044.53 L393.03,1049.47 L390.81,1054.65 L388.95,1060.05 L387.45,1065.62 L386.32,1071.32 L385.59,1077.12 L385.24,1082.98 L385.29,1088.85 L385.73,1094.69 L386.55,1100.47 L387.77,1106.15 L389.35,1111.68 L391.31,1117.03 L393.61,1122.16 L396.25,1127.04 L399.20,1131.62 L402.45,1135.89 L405.98,1139.81 L409.76,1143.36 L413.76,1146.50" fill="none" stroke="#000" stroke-width="1.4"/><path d="M426.94,1017.50 L422.79,1019.43 L418.77,1021.82 L414.92,1024.64 L411.25,1027.88 L407.80,1031.52 L404.59,1035.52 L401.63,1039.87 L398.96,1044.53 L396.58,1049.47 L394.52,1054.65 L392.79,1060.05 L391.40,1065.62 L390.35,1071.32 L389.67,1077.12 L389.35,1082.98 L389.39,1088.85 L389.80,1094.69 L390.57,1100.47 L391.69,1106.15 L393.17,1111.68 L394.98,1117.03 L397.11,1122.16 L399.56,1127.04 L402.31,1131.62 L405.32,1135.89 L408.60,1139.81 L412.10,1143.36 L415.81,1146.50" fill="none" stroke="#000" stroke-width="1.4"/><path d="M427.86,1017.50 L423.97,1019.43 L420.19,1021.82 L416.57,1024.64 L413.13,1027.88 L409.88,1031.52 L406.86,1035.52 L404.09,1039.87 L401.58,1044.53 L399.34,1049.47 L397.41,1054.65 L395.78,1060.05 L394.47,1065.62 L393.49,1071.32 L392.85,1077.12 L392.55,1082.98 L392.59,1088.85 L392.97,1094.69 L393.69,1100.47 L394.75,1106.15 L396.13,1111.68 L397.84,1117.03 L399.84,1122.16 L402.14,1127.04 L404.72,1131.62 L407.56,1135.89 L410.63,1139.81 L413.92,1143.36 L417.41,1146.50" fill="none" stroke="#000" stroke-width="1.4"/><path d="M429.29,1017.50 L425.78,1019.43 L422.38,1021.82 L419.11,1024.64 L416.01,1027.88 L413.09,1031.52 L410.36,1035.52 L407.86,1039.87 L405.60,1044.53 L403.59,1049.47 L401.84,1054.65 L400.37,1060.05 L399.20,1065.62 L398.31,1071.32 L397.73,1077.12 L397.46,1082.98 L397.50,1088.85 L397.84,1094.69 L398.49,1100.47 L399.45,1106.15 L400.69,1111.68 L402.23,1117.03 L404.04,1122.16 L406.11,1127.04 L408.43,1131.62 L410.99,1135.89 L413.76,1139.81 L416.73,1143.36 L419.87,1146.50" fill="none" stroke="#000" stroke-width="1.4"/><path d="M430.22,1017.50 L426.96,1019.43 L423.80,1021.82 L420.77,1024.64 L417.88,1027.88 L415.17,1031.52 L412.64,1035.52 L410.32,1039.87 L408.22,1044.53 L406.35,1049.47 L404.73,1054.65 L403.36,1060.05 L402.27,1065.62 L401.45,1071.32 L400.91,1077.12 L400.66,1082.98 L400.69,1088.85 L401.01,1094.69 L401.62,1100.47 L402.50,1106.15 L403.66,1111.68 L405.09,1117.03 L406.77,1122.16 L408.69,1127.04 L410.85,1131.62 L413.22,1135.89 L415.80,1139.81 L418.55,1143.36 L421.47,1146.50" fill="none" stroke="#000" stroke-width="1.4"/><path d="M431.85,1017.50 L429.03,1019.43 L426.30,1021.82 L423.67,1024.64 L421.18,1027.88 L418.83,1031.52 L416.65,1035.52 L414.64,1039.87 L412.82,1044.53 L411.20,1049.47 L409.80,1054.65 L408.62,1060.05 L407.67,1065.62 L406.97,1071.32 L406.50,1077.12 L406.28,1082.98 L406.31,1088.85 L406.59,1094.69 L407.11,1100.47 L407.88,1106.15 L408.88,1111.68 L410.11,1117.03 L411.56,1122.16 L413.23,1127.04 L415.09,1131.62 L417.15,1135.89 L419.37,1139.81 L421.76,1143.36 L424.28,1146.50" fill="none" stroke="#000" stroke-width="1.4"/><path d="M432.78,1017.50 L430.21,1019.43 L427.72,1021.82 L425.33,1024.64 L423.06,1027.88 L420.92,1031.52 L418.92,1035.52 L417.09,1039.87 L415.44,1044.53 L413.96,1049.47 L412.69,1054.65 L411.61,1060.05 L410.75,1065.62 L410.10,1071.32 L409.68,1077.12 L409.48,1082.98 L409.51,1088.85 L409.76,1094.69 L410.24,1100.47 L410.93,1106.15 L411.85,1111.68 L412.97,1117.03 L414.29,1122.16 L415.81,1127.04 L417.51,1131.62 L419.38,1135.89 L421.41,1139.81 L423.58,1143.36 L425.88,1146.50" fill="none" stroke="#000" stroke-width="1.4"/><path d="M434.58,1017.50 L432.49,1019.43 L430.47,1021.82 L428.53,1024.64 L426.69,1027.88 L424.96,1031.52 L423.34,1035.52 L421.86,1039.87 L420.51,1044.53 L419.32,1049.47 L418.28,1054.65 L417.41,1060.05 L416.71,1065.62 L416.19,1071.32 L415.84,1077.12 L415.68,1082.98 L415.70,1088.85 L415.91,1094.69 L416.29,1100.47 L416.86,1106.15 L417.60,1111.68 L418.51,1117.03 L419.59,1122.16 L420.82,1127.04 L422.19,1131.62 L423.71,1135.89 L425.36,1139.81 L427.12,1143.36 L428.98,1146.50" fill="none" stroke="#000" stroke-width="1.4"/><path d="M435.50,1017.50 L433.67,1019.43 L431.89,1021.82 L430.19,1024.64 L428.57,1027.88 L427.04,1031.52 L425.62,1035.52 L424.31,1039.87 L423.13,1044.53 L422.08,1049.47 L421.17,1054.65 L420.40,1060.05 L419.79,1065.62 L419.32,1071.32 L419.02,1077.12 L418.88,1082.98 L418.90,1088.85 L419.08,1094.69 L419.42,1100.47 L419.92,1106.15 L420.57,1111.68 L421.37,1117.03 L422.31,1122.16 L423.40,1127.04 L424.61,1131.62 L425.95,1135.89 L427.39,1139.81 L428.94,1143.36 L430.58,1146.50" fill="none" stroke="#000" stroke-width="1.4"/><path d="M437.43,1017.50 L436.11,1019.43 L434.84,1021.82 L433.62,1024.64 L432.46,1027.88 L431.36,1031.52 L430.34,1035.52 L429.41,1039.87 L428.56,1044.53 L427.81,1049.47 L427.15,1054.65 L426.60,1060.05 L426.16,1065.62 L425.83,1071.32 L425.61,1077.12 L425.51,1082.98 L425.53,1088.85 L425.65,1094.69 L425.90,1100.47 L426.26,1106.15 L426.72,1111.68 L427.30,1117.03 L427.97,1122.16 L428.75,1127.04 L429.62,1131.62 L430.58,1135.89 L431.61,1139.81 L432.72,1143.36 L433.90,1146.50" fill="none" stroke="#000" stroke-width="1.4"/><path d="M438.36,1017.50 L437.29,1019.43 L436.26,1021.82 L435.27,1024.64 L434.33,1027.88 L433.45,1031.52 L432.62,1035.52 L431.86,1039.87 L431.18,1044.53 L430.57,1049.47 L430.04,1054.65 L429.59,1060.05 L429.24,1065.62 L428.97,1071.32 L428.79,1077.12 L428.71,1082.98 L428.72,1088.85 L428.83,1094.69 L429.02,1100.47 L429.31,1106.15 L429.69,1111.68 L430.16,1117.03 L430.70,1122.16 L431.33,1127.04 L432.04,1131.62 L432.81,1135.89 L433.65,1139.81 L434.55,1143.36 L435.50,1146.50" fill="none" stroke="#000" stroke-width="1.4"/><path d="M440.36,1017.50 L439.83,1019.43 L439.33,1021.82 L438.84,1024.64 L438.38,1027.88 L437.94,1031.52 L437.53,1035.52 L437.16,1039.87 L436.82,1044.53 L436.52,1049.47 L436.26,1054.65 L436.04,1060.05 L435.87,1065.62 L435.74,1071.32 L435.65,1077.12 L435.61,1082.98 L435.61,1088.85 L435.66,1094.69 L435.76,1100.47 L435.90,1106.15 L436.09,1111.68 L436.32,1117.03 L436.59,1122.16 L436.90,1127.04 L437.25,1131.62 L437.63,1135.89 L438.04,1139.81 L438.48,1143.36 L438.95,1146.50" fill="none" stroke="#000" stroke-width="1.4"/><path d="M441.29,1017.50 L441.01,1019.43 L440.75,1021.82 L440.49,1024.64 L440.25,1027.88 L440.02,1031.52 L439.81,1035.52 L439.62,1039.87 L439.44,1044.53 L439.28,1049.47 L439.15,1054.65 L439.03,1060.05 L438.94,1065.62 L438.87,1071.32 L438.83,1077.12 L438.81,1082.98 L438.81,1088.85 L438.84,1094.69 L438.89,1100.47 L438.96,1106.15 L439.06,1111.68 L439.18,1117.03 L439.32,1122.16 L439.48,1127.04 L439.66,1131.62 L439.86,1135.89 L440.08,1139.81 L440.31,1143.36 L440.55,1146.50" fill="none" stroke="#000" stroke-width="1.4"/><path d="M443.31,1017.50 L443.59,1019.43 L443.85,1021.82 L444.11,1024.64 L444.35,1027.88 L444.58,1031.52 L444.79,1035.52 L444.98,1039.87 L445.16,1044.53 L445.32,1049.47 L445.45,1054.65 L445.57,1060.05 L445.66,1065.62 L445.73,1071.32 L445.77,1077.12 L445.79,1082.98 L445.79,1088.85 L445.76,1094.69 L445.71,1100.47 L445.64,1106.15 L445.54,1111.68 L445.42,1117.03 L445.28,1122.16 L445.12,1127.04 L444.94,1131.62 L444.74,1135.89 L444.52,1139.81 L444.29,1143.36 L444.05,1146.50" fill="none" stroke="#000" stroke-width="1.4"/><path d="M444.24,1017.50 L444.77,1019.43 L445.27,1021.82 L445.76,1024.64 L446.22,1027.88 L446.66,1031.52 L447.07,1035.52 L447.44,1039.87 L447.78,1044.53 L448.08,1049.47 L448.34,1054.65 L448.56,1060.05 L448.73,1065.62 L448.86,1071.32 L448.95,1077.12 L448.99,1082.98 L448.99,1088.85 L448.94,1094.69 L448.84,1100.47 L448.70,1106.15 L448.51,1111.68 L448.28,1117.03 L448.01,1122.16 L447.70,1127.04 L447.35,1131.62 L446.97,1135.89 L446.56,1139.81 L446.12,1143.36 L445.65,1146.50" fill="none" stroke="#000" stroke-width="1.4"/><path d="M446.24,1017.50 L447.31,1019.43 L448.34,1021.82 L449.33,1024.64 L450.27,1027.88 L451.15,1031.52 L451.98,1035.52 L452.74,1039.87 L453.42,1044.53 L454.03,1049.47 L454.56,1054.65 L455.01,1060.05 L455.36,1065.62 L455.63,1071.32 L455.81,1077.12 L455.89,1082.98 L455.88,1088.85 L455.77,1094.69 L455.58,1100.47 L455.29,1106.15 L454.91,1111.68 L454.44,1117.03 L453.90,1122.16 L453.27,1127.04 L452.56,1131.62 L451.79,1135.89 L450.95,1139.81 L450.05,1143.36 L449.10,1146.50" fill="none" stroke="#000" stroke-width="1.4"/><path d="M447.17,1017.50 L448.49,1019.43 L449.76,1021.82 L450.98,1024.64 L452.14,1027.88 L453.24,1031.52 L454.26,1035.52 L455.19,1039.87 L456.04,1044.53 L456.79,1049.47 L457.45,1054.65 L458.00,1060.05 L458.44,1065.62 L458.77,1071.32 L458.99,1077.12 L459.09,1082.98 L459.07,1088.85 L458.95,1094.69 L458.70,1100.47 L458.34,1106.15 L457.88,1111.68 L457.30,1117.03 L456.63,1122.16 L455.85,1127.04 L454.98,1131.62 L454.02,1135.89 L452.99,1139.81 L451.88,1143.36 L450.70,1146.50" fill="none" stroke="#000" stroke-width="1.4"/><path d="M449.10,1017.50 L450.93,1019.43 L452.71,1021.82 L454.41,1024.64 L456.03,1027.88 L457.56,1031.52 L458.98,1035.52 L460.29,1039.87 L461.47,1044.53 L462.52,1049.47 L463.43,1054.65 L464.20,1060.05 L464.81,1065.62 L465.28,1071.32 L465.58,1077.12 L465.72,1082.98 L465.70,1088.85 L465.52,1094.69 L465.18,1100.47 L464.68,1106.15 L464.03,1111.68 L463.23,1117.03 L462.29,1122.16 L461.20,1127.04 L459.99,1131.62 L458.65,1135.89 L457.21,1139.81 L455.66,1143.36 L454.02,1146.50" fill="none" stroke="#000" stroke-width="1.4"/><path d="M450.02,1017.50 L452.11,1019.43 L454.13,1021.82 L456.07,1024.64 L457.91,1027.88 L459.64,1031.52 L461.26,1035.52 L462.74,1039.87 L464.09,1044.53 L465.28,1049.47 L466.32,1054.65 L467.19,1060.05 L467.89,1065.62 L468.41,1071.32 L468.76,1077.12 L468.92,1082.98 L468.90,1088.85 L468.69,1094.69 L468.31,1100.47 L467.74,1106.15 L467.00,1111.68 L466.09,1117.03 L465.01,1122.16 L463.78,1127.04 L462.41,1131.62 L460.89,1135.89 L459.24,1139.81 L457.48,1143.36 L455.62,1146.50" fill="none" stroke="#000" stroke-width="1.4"/><path d="M451.82,1017.50 L454.39,1019.43 L456.88,1021.82 L459.27,1024.64 L461.54,1027.88 L463.68,1031.52 L465.68,1035.52 L467.51,1039.87 L469.16,1044.53 L470.64,1049.47 L471.91,1054.65 L472.99,1060.05 L473.85,1065.62 L474.50,1071.32 L474.92,1077.12 L475.12,1082.98 L475.09,1088.85 L474.84,1094.69 L474.36,1100.47 L473.67,1106.15 L472.75,1111.68 L471.63,1117.03 L470.31,1122.16 L468.79,1127.04 L467.09,1131.62 L465.22,1135.89 L463.19,1139.81 L461.02,1143.36 L458.72,1146.50" fill="none" stroke="#000" stroke-width="1.4"/><path d="M452.75,1017.50 L455.57,1019.43 L458.30,1021.82 L460.93,1024.64 L463.42,1027.88 L465.77,1031.52 L467.95,1035.52 L469.96,1039.87 L471.78,1044.53 L473.40,1049.47 L474.80,1054.65 L475.98,1060.05 L476.93,1065.62 L477.63,1071.32 L478.10,1077.12 L478.32,1082.98 L478.29,1088.85 L478.01,1094.69 L477.49,1100.47 L476.72,1106.15 L475.72,1111.68 L474.49,1117.03 L473.04,1122.16 L471.37,1127.04 L469.51,1131.62 L467.45,1135.89 L465.23,1139.81 L462.84,1143.36 L460.32,1146.50" fill="none" stroke="#000" stroke-width="1.4"/><path d="M454.38,1017.50 L457.64,1019.43 L460.80,1021.82 L463.83,1024.64 L466.72,1027.88 L469.43,1031.52 L471.96,1035.52 L474.28,1039.87 L476.38,1044.53 L478.25,1049.47 L479.87,1054.65 L481.24,1060.05 L482.33,1065.62 L483.15,1071.32 L483.69,1077.12 L483.94,1082.98 L483.91,1088.85 L483.59,1094.69 L482.98,1100.47 L482.10,1106.15 L480.94,1111.68 L479.51,1117.03 L477.83,1122.16 L475.91,1127.04 L473.75,1131.62 L471.38,1135.89 L468.80,1139.81 L466.05,1143.36 L463.13,1146.50" fill="none" stroke="#000" stroke-width="1.4"/><path d="M455.31,1017.50 L458.82,1019.43 L462.22,1021.82 L465.49,1024.64 L468.59,1027.88 L471.51,1031.52 L474.24,1035.52 L476.74,1039.87 L479.00,1044.53 L481.01,1049.47 L482.76,1054.65 L484.23,1060.05 L485.40,1065.62 L486.29,1071.32 L486.87,1077.12 L487.14,1082.98 L487.10,1088.85 L486.76,1094.69 L486.11,1100.47 L485.15,1106.15 L483.91,1111.68 L482.37,1117.03 L480.56,1122.16 L478.49,1127.04 L476.17,1131.62 L473.61,1135.89 L470.84,1139.81 L467.87,1143.36 L464.73,1146.50" fill="none" stroke="#000" stroke-width="1.4"/><path d="M456.74,1017.50 L460.63,1019.43 L464.41,1021.82 L468.03,1024.64 L471.47,1027.88 L474.72,1031.52 L477.74,1035.52 L480.51,1039.87 L483.02,1044.53 L485.26,1049.47 L487.19,1054.65 L488.82,1060.05 L490.13,1065.62 L491.11,1071.32 L491.75,1077.12 L492.05,1082.98 L492.01,1088.85 L491.63,1094.69 L490.91,1100.47 L489.85,1106.15 L488.47,1111.68 L486.76,1117.03 L484.76,1122.16 L482.46,1127.04 L479.88,1131.62 L477.04,1135.89 L473.97,1139.81 L470.68,1143.36 L467.19,1146.50" fill="none" stroke="#000" stroke-width="1.4"/><path d="M457.66,1017.50 L461.81,1019.43 L465.83,1021.82 L469.68,1024.64 L473.35,1027.88 L476.80,1031.52 L480.01,1035.52 L482.97,1039.87 L485.64,1044.53 L488.02,1049.47 L490.08,1054.65 L491.81,1060.05 L493.20,1065.62 L494.25,1071.32 L494.93,1077.12 L495.25,1082.98 L495.21,1088.85 L494.80,1094.69 L494.03,1100.47 L492.91,1106.15 L491.43,1111.68 L489.62,1117.03 L487.49,1122.16 L485.04,1127.04 L482.29,1131.62 L479.28,1135.89 L476.00,1139.81 L472.50,1143.36 L468.79,1146.50" fill="none" stroke="#000" stroke-width="1.4"/><path d="M458.86,1017.50 L463.33,1019.43 L467.65,1021.82 L471.81,1024.64 L475.76,1027.88 L479.48,1031.52 L482.94,1035.52 L486.12,1039.87 L489.01,1044.53 L491.57,1049.47 L493.79,1054.65 L495.65,1060.05 L497.15,1065.62 L498.28,1071.32 L499.01,1077.12 L499.36,1082.98 L499.31,1088.85 L498.87,1094.69 L498.05,1100.47 L496.83,1106.15 L495.25,1111.68 L493.29,1117.03 L490.99,1122.16 L488.35,1127.04 L485.40,1131.62 L482.15,1135.89 L478.62,1139.81 L474.84,1143.36 L470.84,1146.50" fill="none" stroke="#000" stroke-width="1.4"/><path d="M459.78,1017.50 L464.51,1019.43 L469.08,1021.82 L473.46,1024.64 L477.63,1027.88 L481.56,1031.52 L485.22,1035.52 L488.58,1039.87 L491.62,1044.53 L494.33,1049.47 L496.67,1054.65 L498.64,1060.05 L500.23,1065.62 L501.41,1071.32 L502.19,1077.12 L502.56,1082.98 L502.51,1088.85 L502.04,1094.69 L501.17,1100.47 L499.89,1106.15 L498.21,1111.68 L496.15,1117.03 L493.72,1122.16 L490.93,1127.04 L487.81,1131.62 L484.38,1135.89 L480.66,1139.81 L476.67,1143.36 L472.44,1146.50" fill="none" stroke="#000" stroke-width="1.4"/><path d="M460.72,1017.50 L465.70,1019.43 L470.51,1021.82 L475.13,1024.64 L479.53,1027.88 L483.67,1031.52 L487.52,1035.52 L491.06,1039.87 L494.27,1044.53 L497.12,1049.47 L499.59,1054.65 L501.67,1060.05 L503.34,1065.62 L504.59,1071.32 L505.41,1077.12 L505.79,1082.98 L505.74,1088.85 L505.25,1094.69 L504.33,1100.47 L502.98,1106.15 L501.21,1111.68 L499.04,1117.03 L496.48,1122.16 L493.54,1127.04 L490.26,1131.62 L486.64,1135.89 L482.71,1139.81 L478.51,1143.36 L474.06,1146.50" fill="none" stroke="#000" stroke-width="1.4"/><path d="M461.65,1017.50 L466.88,1019.43 L471.93,1021.82 L476.79,1024.64 L481.40,1027.88 L485.75,1031.52 L489.80,1035.52 L493.52,1039.87 L496.89,1044.53 L499.88,1049.47 L502.48,1054.65 L504.66,1060.05 L506.41,1065.62 L507.72,1071.32 L508.58,1077.12 L508.99,1082.98 L508.94,1088.85 L508.42,1094.69 L507.45,1100.47 L506.04,1106.15 L504.18,1111.68 L501.90,1117.03 L499.21,1122.16 L496.13,1127.04 L492.67,1131.62 L488.87,1135.89 L484.75,1139.81 L480.34,1143.36 L475.66,1146.50" fill="none" stroke="#000" stroke-width="1.4"/><ellipse cx="442.30" cy="1140.40" rx="34.00" ry="6.10" fill="none" stroke="#000" stroke-width="1.54"/><path d="M422.58,1017.50 L462.02,1017.50" stroke="#000" stroke-width="1.96"/>
<path d="M431.2,1184.3 L430.5,1196 C425,1203 421,1209 421,1216 C421,1229 431,1237.7 442.1,1237.7 C454,1237.7 463.7,1229 463.7,1216 C463.7,1209 459,1203 454.6,1196 L454.2,1184.3 L452,1181.4 L433.4,1181.4 Z" fill="#fff" stroke="#000" stroke-width="1.1"/>
<path d="M437.4,1167.2 Q442.7,1161.5 448,1167.2 Z" fill="#fff" stroke="#000" stroke-width="1.1"/>
<rect x="433.4" y="1167.2" width="18.6" height="14.2" rx="1" fill="#000"/>
<path d="M435,1170.5 L450.5,1169.7" stroke="#fff" stroke-width="1.1"/>
<path d="M435,1174 L450.5,1173.2" stroke="#fff" stroke-width="1.1"/>
<path d="M435,1177.5 L450.5,1176.7" stroke="#fff" stroke-width="1.1"/>
<path d="M433.4,1181.4 L452,1181.4" stroke="#000" stroke-width="1.2"/>
<path d="M485.6,1193.3 L485.6,1220.0" stroke="#000" stroke-width="1"/><path d="M483.5,1195.8 L485.6,1186.5 L487.7,1195.8 Z" fill="#000" stroke="#000" stroke-width="0.6"/><path d="M485.6,1214.3 L492.9,1214.3" stroke="#000" stroke-width="1"/><path d="M489.9,1208.8 L483.1,1208.8 Q478.0,1210.0 478.8,1212.6 Q480.5,1215.1 486.5,1214.3" fill="none" stroke="#000" stroke-width="1"/><path d="M481.4,1207.1 L487.3,1208.3 L482.2,1210.5 Z" fill="#000" stroke="#000" stroke-width="0.5"/>
<rect x="776.4" y="963.5" width="37.4" height="10.6" fill="#fff" stroke="#000" stroke-width="1.1"/>
<rect x="792.2" y="974.1" width="6.4" height="4.7" fill="#fff" stroke="#000" stroke-width="1"/>
<path d="M794,978.8 L794,1117 M797,978.8 L797,1117" stroke="#000" stroke-width="0.9" fill="none" />
<rect x="793.1" y="1116.8" width="4.9" height="40.7" fill="#fff" stroke="#000" stroke-width="1"/>
<rect x="782.5" y="1157" width="26.5" height="4.5" fill="#fff" stroke="#000" stroke-width="1.1"/>
<path d="M784.01,1161.30 L780.82,1162.38 L777.73,1163.71 L774.76,1165.29 L771.92,1167.11 L769.24,1169.16 L766.74,1171.41 L764.42,1173.87 L762.32,1176.50 L760.43,1179.30 L758.77,1182.24 L757.36,1185.31 L756.20,1188.48 L755.30,1191.74 L754.66,1195.06 L754.30,1198.42 L754.20,1201.80 L754.38,1205.17 L754.84,1208.52 L755.56,1211.83 L756.55,1215.06 L757.79,1218.20 L759.28,1221.23 L761.02,1224.12 L762.98,1226.87 L765.16,1229.45 L767.54,1231.84 L770.10,1234.03 L772.83,1236.00 L818.37,1236.00 L821.10,1234.03 L823.66,1231.84 L826.04,1229.45 L828.22,1226.87 L830.18,1224.12 L831.92,1221.23 L833.41,1218.20 L834.65,1215.06 L835.64,1211.83 L836.36,1208.52 L836.82,1205.17 L837.00,1201.80 L836.90,1198.42 L836.54,1195.06 L835.90,1191.74 L835.00,1188.48 L833.84,1185.31 L832.43,1182.24 L830.77,1179.30 L828.88,1176.50 L826.78,1173.87 L824.46,1171.41 L821.96,1169.16 L819.28,1167.11 L816.44,1165.29 L813.47,1163.71 L810.38,1162.38 L807.19,1161.30 Z" fill="#fff" stroke="#000" stroke-width="1.20" stroke-linejoin="round"/><path d="M784.21,1161.30 L781.08,1162.38 L778.04,1163.71 L775.12,1165.29 L772.34,1167.11 L769.71,1169.16 L767.25,1171.41 L764.97,1173.87 L762.90,1176.50 L761.05,1179.30 L759.42,1182.24 L758.03,1185.31 L756.89,1188.48 L756.00,1191.74 L755.38,1195.06 L755.02,1198.42 L754.93,1201.80 L755.11,1205.17 L755.56,1208.52 L756.26,1211.83 L757.23,1215.06 L758.46,1218.20 L759.92,1221.23 L761.63,1224.12 L763.55,1226.87 L765.69,1229.45 L768.03,1231.84 L770.55,1234.03 L773.23,1236.00" fill="none" stroke="#000" stroke-width="1.45"/><path d="M784.86,1161.30 L781.90,1162.38 L779.04,1163.71 L776.28,1165.29 L773.65,1167.11 L771.17,1169.16 L768.85,1171.41 L766.71,1173.87 L764.75,1176.50 L763.00,1179.30 L761.46,1182.24 L760.15,1185.31 L759.08,1188.48 L758.24,1191.74 L757.66,1195.06 L757.32,1198.42 L757.23,1201.80 L757.40,1205.17 L757.82,1208.52 L758.49,1211.83 L759.40,1215.06 L760.56,1218.20 L761.94,1221.23 L763.55,1224.12 L765.37,1226.87 L767.38,1229.45 L769.59,1231.84 L771.96,1234.03 L774.50,1236.00" fill="none" stroke="#000" stroke-width="1.45"/><path d="M785.44,1161.30 L782.64,1162.38 L779.93,1163.71 L777.33,1165.29 L774.84,1167.11 L772.49,1169.16 L770.30,1171.41 L768.27,1173.87 L766.42,1176.50 L764.76,1179.30 L763.31,1182.24 L762.07,1185.31 L761.05,1188.48 L760.26,1191.74 L759.71,1195.06 L759.39,1198.42 L759.31,1201.80 L759.46,1205.17 L759.86,1208.52 L760.49,1211.83 L761.36,1215.06 L762.45,1218.20 L763.76,1221.23 L765.28,1224.12 L767.00,1226.87 L768.91,1229.45 L770.99,1231.84 L773.24,1234.03 L775.64,1236.00" fill="none" stroke="#000" stroke-width="1.45"/><path d="M786.08,1161.30 L783.46,1162.38 L780.92,1163.71 L778.48,1165.29 L776.16,1167.11 L773.96,1169.16 L771.90,1171.41 L770.00,1173.87 L768.27,1176.50 L766.72,1179.30 L765.36,1182.24 L764.20,1185.31 L763.24,1188.48 L762.50,1191.74 L761.98,1195.06 L761.68,1198.42 L761.61,1201.80 L761.75,1205.17 L762.13,1208.52 L762.72,1211.83 L763.53,1215.06 L764.55,1218.20 L765.78,1221.23 L767.20,1224.12 L768.81,1226.87 L770.60,1229.45 L772.55,1231.84 L774.66,1234.03 L776.90,1236.00" fill="none" stroke="#000" stroke-width="1.45"/><path d="M786.88,1161.30 L784.48,1162.38 L782.16,1163.71 L779.92,1165.29 L777.79,1167.11 L775.78,1169.16 L773.89,1171.41 L772.15,1173.87 L770.56,1176.50 L769.14,1179.30 L767.90,1182.24 L766.83,1185.31 L765.96,1188.48 L765.28,1191.74 L764.81,1195.06 L764.53,1198.42 L764.46,1201.80 L764.60,1205.17 L764.94,1208.52 L765.48,1211.83 L766.22,1215.06 L767.16,1218.20 L768.28,1221.23 L769.59,1224.12 L771.06,1226.87 L772.70,1229.45 L774.49,1231.84 L776.42,1234.03 L778.47,1236.00" fill="none" stroke="#000" stroke-width="1.45"/><path d="M787.52,1161.30 L785.30,1162.38 L783.15,1163.71 L781.08,1165.29 L779.11,1167.11 L777.24,1169.16 L775.49,1171.41 L773.88,1173.87 L772.41,1176.50 L771.10,1179.30 L769.94,1182.24 L768.96,1185.31 L768.15,1188.48 L767.52,1191.74 L767.08,1195.06 L766.83,1198.42 L766.76,1201.80 L766.89,1205.17 L767.20,1208.52 L767.71,1211.83 L768.39,1215.06 L769.26,1218.20 L770.30,1221.23 L771.51,1224.12 L772.88,1226.87 L774.39,1229.45 L776.05,1231.84 L777.83,1234.03 L779.74,1236.00" fill="none" stroke="#000" stroke-width="1.45"/><path d="M788.52,1161.30 L786.58,1162.38 L784.69,1163.71 L782.87,1165.29 L781.14,1167.11 L779.51,1169.16 L777.98,1171.41 L776.56,1173.87 L775.28,1176.50 L774.12,1179.30 L773.11,1182.24 L772.25,1185.31 L771.54,1188.48 L770.99,1191.74 L770.60,1195.06 L770.38,1198.42 L770.32,1201.80 L770.43,1205.17 L770.71,1208.52 L771.15,1211.83 L771.75,1215.06 L772.51,1218.20 L773.43,1221.23 L774.48,1224.12 L775.68,1226.87 L777.01,1229.45 L778.46,1231.84 L780.03,1234.03 L781.70,1236.00" fill="none" stroke="#000" stroke-width="1.45"/><path d="M789.17,1161.30 L787.40,1162.38 L785.68,1163.71 L784.03,1165.29 L782.46,1167.11 L780.97,1169.16 L779.58,1171.41 L778.30,1173.87 L777.13,1176.50 L776.08,1179.30 L775.16,1182.24 L774.37,1185.31 L773.73,1188.48 L773.23,1191.74 L772.88,1195.06 L772.67,1198.42 L772.62,1201.80 L772.72,1205.17 L772.97,1208.52 L773.38,1211.83 L773.92,1215.06 L774.61,1218.20 L775.44,1221.23 L776.40,1224.12 L777.49,1226.87 L778.70,1229.45 L780.02,1231.84 L781.44,1234.03 L782.96,1236.00" fill="none" stroke="#000" stroke-width="1.45"/><path d="M790.33,1161.30 L788.88,1162.38 L787.47,1163.71 L786.12,1165.29 L784.83,1167.11 L783.61,1169.16 L782.47,1171.41 L781.42,1173.87 L780.46,1176.50 L779.60,1179.30 L778.85,1182.24 L778.20,1185.31 L777.68,1188.48 L777.27,1191.74 L776.98,1195.06 L776.81,1198.42 L776.77,1201.80 L776.85,1205.17 L777.06,1208.52 L777.39,1211.83 L777.84,1215.06 L778.40,1218.20 L779.08,1221.23 L779.87,1224.12 L780.76,1226.87 L781.75,1229.45 L782.83,1231.84 L784.00,1234.03 L785.24,1236.00" fill="none" stroke="#000" stroke-width="1.45"/><path d="M790.97,1161.30 L789.70,1162.38 L788.46,1163.71 L787.28,1165.29 L786.14,1167.11 L785.08,1169.16 L784.08,1171.41 L783.15,1173.87 L782.31,1176.50 L781.55,1179.30 L780.89,1182.24 L780.33,1185.31 L779.87,1188.48 L779.51,1191.74 L779.25,1195.06 L779.11,1198.42 L779.07,1201.80 L779.14,1205.17 L779.32,1208.52 L779.61,1211.83 L780.01,1215.06 L780.50,1218.20 L781.10,1221.23 L781.79,1224.12 L782.57,1226.87 L783.44,1229.45 L784.39,1231.84 L785.42,1234.03 L786.51,1236.00" fill="none" stroke="#000" stroke-width="1.45"/><path d="M792.26,1161.30 L791.34,1162.38 L790.45,1163.71 L789.59,1165.29 L788.77,1167.11 L788.00,1169.16 L787.27,1171.41 L786.61,1173.87 L786.00,1176.50 L785.45,1179.30 L784.98,1182.24 L784.57,1185.31 L784.23,1188.48 L783.97,1191.74 L783.79,1195.06 L783.69,1198.42 L783.66,1201.80 L783.71,1205.17 L783.84,1208.52 L784.05,1211.83 L784.33,1215.06 L784.69,1218.20 L785.12,1221.23 L785.62,1224.12 L786.19,1226.87 L786.82,1229.45 L787.50,1231.84 L788.24,1234.03 L789.03,1236.00" fill="none" stroke="#000" stroke-width="1.45"/><path d="M792.90,1161.30 L792.16,1162.38 L791.44,1163.71 L790.75,1165.29 L790.09,1167.11 L789.46,1169.16 L788.88,1171.41 L788.34,1173.87 L787.85,1176.50 L787.41,1179.30 L787.02,1182.24 L786.69,1185.31 L786.42,1188.48 L786.21,1191.74 L786.06,1195.06 L785.98,1198.42 L785.96,1201.80 L786.00,1205.17 L786.11,1208.52 L786.27,1211.83 L786.50,1215.06 L786.79,1218.20 L787.14,1221.23 L787.55,1224.12 L788.00,1226.87 L788.51,1229.45 L789.06,1231.84 L789.66,1234.03 L790.30,1236.00" fill="none" stroke="#000" stroke-width="1.45"/><path d="M794.26,1161.30 L793.89,1162.38 L793.54,1163.71 L793.19,1165.29 L792.87,1167.11 L792.56,1169.16 L792.27,1171.41 L792.00,1173.87 L791.76,1176.50 L791.54,1179.30 L791.35,1182.24 L791.19,1185.31 L791.05,1188.48 L790.95,1191.74 L790.87,1195.06 L790.83,1198.42 L790.82,1201.80 L790.84,1205.17 L790.90,1208.52 L790.98,1211.83 L791.09,1215.06 L791.24,1218.20 L791.41,1221.23 L791.61,1224.12 L791.83,1226.87 L792.09,1229.45 L792.36,1231.84 L792.66,1234.03 L792.97,1236.00" fill="none" stroke="#000" stroke-width="1.45"/><path d="M794.91,1161.30 L794.72,1162.38 L794.53,1163.71 L794.35,1165.29 L794.18,1167.11 L794.02,1169.16 L793.87,1171.41 L793.73,1173.87 L793.61,1176.50 L793.49,1179.30 L793.40,1182.24 L793.31,1185.31 L793.24,1188.48 L793.19,1191.74 L793.15,1195.06 L793.13,1198.42 L793.12,1201.80 L793.13,1205.17 L793.16,1208.52 L793.20,1211.83 L793.26,1215.06 L793.34,1218.20 L793.43,1221.23 L793.53,1224.12 L793.65,1226.87 L793.78,1229.45 L793.92,1231.84 L794.07,1234.03 L794.24,1236.00" fill="none" stroke="#000" stroke-width="1.45"/><path d="M796.29,1161.30 L796.48,1162.38 L796.67,1163.71 L796.85,1165.29 L797.02,1167.11 L797.18,1169.16 L797.33,1171.41 L797.47,1173.87 L797.59,1176.50 L797.71,1179.30 L797.80,1182.24 L797.89,1185.31 L797.96,1188.48 L798.01,1191.74 L798.05,1195.06 L798.07,1198.42 L798.08,1201.80 L798.07,1205.17 L798.04,1208.52 L798.00,1211.83 L797.94,1215.06 L797.86,1218.20 L797.77,1221.23 L797.67,1224.12 L797.55,1226.87 L797.42,1229.45 L797.28,1231.84 L797.13,1234.03 L796.96,1236.00" fill="none" stroke="#000" stroke-width="1.45"/><path d="M796.94,1161.30 L797.31,1162.38 L797.66,1163.71 L798.01,1165.29 L798.33,1167.11 L798.64,1169.16 L798.93,1171.41 L799.20,1173.87 L799.44,1176.50 L799.66,1179.30 L799.85,1182.24 L800.01,1185.31 L800.15,1188.48 L800.25,1191.74 L800.33,1195.06 L800.37,1198.42 L800.38,1201.80 L800.36,1205.17 L800.30,1208.52 L800.22,1211.83 L800.11,1215.06 L799.96,1218.20 L799.79,1221.23 L799.59,1224.12 L799.37,1226.87 L799.11,1229.45 L798.84,1231.84 L798.54,1234.03 L798.23,1236.00" fill="none" stroke="#000" stroke-width="1.45"/><path d="M798.30,1161.30 L799.04,1162.38 L799.76,1163.71 L800.45,1165.29 L801.11,1167.11 L801.74,1169.16 L802.32,1171.41 L802.86,1173.87 L803.35,1176.50 L803.79,1179.30 L804.18,1182.24 L804.51,1185.31 L804.78,1188.48 L804.99,1191.74 L805.14,1195.06 L805.22,1198.42 L805.24,1201.80 L805.20,1205.17 L805.09,1208.52 L804.93,1211.83 L804.70,1215.06 L804.41,1218.20 L804.06,1221.23 L803.65,1224.12 L803.20,1226.87 L802.69,1229.45 L802.14,1231.84 L801.54,1234.03 L800.90,1236.00" fill="none" stroke="#000" stroke-width="1.45"/><path d="M798.94,1161.30 L799.86,1162.38 L800.75,1163.71 L801.61,1165.29 L802.43,1167.11 L803.20,1169.16 L803.93,1171.41 L804.59,1173.87 L805.20,1176.50 L805.75,1179.30 L806.22,1182.24 L806.63,1185.31 L806.97,1188.48 L807.23,1191.74 L807.41,1195.06 L807.51,1198.42 L807.54,1201.80 L807.49,1205.17 L807.36,1208.52 L807.15,1211.83 L806.87,1215.06 L806.51,1218.20 L806.08,1221.23 L805.58,1224.12 L805.01,1226.87 L804.38,1229.45 L803.70,1231.84 L802.96,1234.03 L802.17,1236.00" fill="none" stroke="#000" stroke-width="1.45"/><path d="M800.23,1161.30 L801.50,1162.38 L802.74,1163.71 L803.92,1165.29 L805.06,1167.11 L806.12,1169.16 L807.12,1171.41 L808.05,1173.87 L808.89,1176.50 L809.65,1179.30 L810.31,1182.24 L810.87,1185.31 L811.33,1188.48 L811.69,1191.74 L811.95,1195.06 L812.09,1198.42 L812.13,1201.80 L812.06,1205.17 L811.88,1208.52 L811.59,1211.83 L811.19,1215.06 L810.70,1218.20 L810.10,1221.23 L809.41,1224.12 L808.63,1226.87 L807.76,1229.45 L806.81,1231.84 L805.78,1234.03 L804.69,1236.00" fill="none" stroke="#000" stroke-width="1.45"/><path d="M800.87,1161.30 L802.32,1162.38 L803.73,1163.71 L805.08,1165.29 L806.37,1167.11 L807.59,1169.16 L808.73,1171.41 L809.78,1173.87 L810.74,1176.50 L811.60,1179.30 L812.35,1182.24 L813.00,1185.31 L813.52,1188.48 L813.93,1191.74 L814.22,1195.06 L814.39,1198.42 L814.43,1201.80 L814.35,1205.17 L814.14,1208.52 L813.81,1211.83 L813.36,1215.06 L812.80,1218.20 L812.12,1221.23 L811.33,1224.12 L810.44,1226.87 L809.45,1229.45 L808.37,1231.84 L807.20,1234.03 L805.96,1236.00" fill="none" stroke="#000" stroke-width="1.45"/><path d="M802.03,1161.30 L803.80,1162.38 L805.52,1163.71 L807.17,1165.29 L808.74,1167.11 L810.23,1169.16 L811.62,1171.41 L812.90,1173.87 L814.07,1176.50 L815.12,1179.30 L816.04,1182.24 L816.83,1185.31 L817.47,1188.48 L817.97,1191.74 L818.32,1195.06 L818.53,1198.42 L818.58,1201.80 L818.48,1205.17 L818.23,1208.52 L817.82,1211.83 L817.28,1215.06 L816.59,1218.20 L815.76,1221.23 L814.80,1224.12 L813.71,1226.87 L812.50,1229.45 L811.18,1231.84 L809.76,1234.03 L808.24,1236.00" fill="none" stroke="#000" stroke-width="1.45"/><path d="M802.68,1161.30 L804.62,1162.38 L806.51,1163.71 L808.33,1165.29 L810.06,1167.11 L811.69,1169.16 L813.22,1171.41 L814.64,1173.87 L815.92,1176.50 L817.08,1179.30 L818.09,1182.24 L818.95,1185.31 L819.66,1188.48 L820.21,1191.74 L820.60,1195.06 L820.82,1198.42 L820.88,1201.80 L820.77,1205.17 L820.49,1208.52 L820.05,1211.83 L819.45,1215.06 L818.69,1218.20 L817.77,1221.23 L816.72,1224.12 L815.52,1226.87 L814.19,1229.45 L812.74,1231.84 L811.17,1234.03 L809.50,1236.00" fill="none" stroke="#000" stroke-width="1.45"/><path d="M803.68,1161.30 L805.90,1162.38 L808.05,1163.71 L810.12,1165.29 L812.09,1167.11 L813.96,1169.16 L815.71,1171.41 L817.32,1173.87 L818.79,1176.50 L820.10,1179.30 L821.26,1182.24 L822.24,1185.31 L823.05,1188.48 L823.68,1191.74 L824.12,1195.06 L824.37,1198.42 L824.44,1201.80 L824.31,1205.17 L824.00,1208.52 L823.49,1211.83 L822.81,1215.06 L821.94,1218.20 L820.90,1221.23 L819.69,1224.12 L818.32,1226.87 L816.81,1229.45 L815.15,1231.84 L813.37,1234.03 L811.46,1236.00" fill="none" stroke="#000" stroke-width="1.45"/><path d="M804.32,1161.30 L806.72,1162.38 L809.04,1163.71 L811.28,1165.29 L813.41,1167.11 L815.42,1169.16 L817.31,1171.41 L819.05,1173.87 L820.64,1176.50 L822.06,1179.30 L823.30,1182.24 L824.37,1185.31 L825.24,1188.48 L825.92,1191.74 L826.39,1195.06 L826.67,1198.42 L826.74,1201.80 L826.60,1205.17 L826.26,1208.52 L825.72,1211.83 L824.98,1215.06 L824.04,1218.20 L822.92,1221.23 L821.61,1224.12 L820.14,1226.87 L818.50,1229.45 L816.71,1231.84 L814.78,1234.03 L812.73,1236.00" fill="none" stroke="#000" stroke-width="1.45"/><path d="M805.12,1161.30 L807.74,1162.38 L810.28,1163.71 L812.72,1165.29 L815.04,1167.11 L817.24,1169.16 L819.30,1171.41 L821.20,1173.87 L822.93,1176.50 L824.48,1179.30 L825.84,1182.24 L827.00,1185.31 L827.96,1188.48 L828.70,1191.74 L829.22,1195.06 L829.52,1198.42 L829.59,1201.80 L829.45,1205.17 L829.07,1208.52 L828.48,1211.83 L827.67,1215.06 L826.65,1218.20 L825.42,1221.23 L824.00,1224.12 L822.39,1226.87 L820.60,1229.45 L818.65,1231.84 L816.54,1234.03 L814.30,1236.00" fill="none" stroke="#000" stroke-width="1.45"/><path d="M805.76,1161.30 L808.56,1162.38 L811.27,1163.71 L813.87,1165.29 L816.36,1167.11 L818.71,1169.16 L820.90,1171.41 L822.93,1173.87 L824.78,1176.50 L826.44,1179.30 L827.89,1182.24 L829.13,1185.31 L830.15,1188.48 L830.94,1191.74 L831.49,1195.06 L831.81,1198.42 L831.89,1201.80 L831.74,1205.17 L831.34,1208.52 L830.71,1211.83 L829.84,1215.06 L828.75,1218.20 L827.44,1221.23 L825.92,1224.12 L824.20,1226.87 L822.29,1229.45 L820.21,1231.84 L817.96,1234.03 L815.56,1236.00" fill="none" stroke="#000" stroke-width="1.45"/><path d="M806.34,1161.30 L809.30,1162.38 L812.16,1163.71 L814.92,1165.29 L817.55,1167.11 L820.03,1169.16 L822.35,1171.41 L824.49,1173.87 L826.45,1176.50 L828.20,1179.30 L829.74,1182.24 L831.05,1185.31 L832.12,1188.48 L832.96,1191.74 L833.54,1195.06 L833.88,1198.42 L833.97,1201.80 L833.80,1205.17 L833.38,1208.52 L832.71,1211.83 L831.80,1215.06 L830.64,1218.20 L829.26,1221.23 L827.65,1224.12 L825.83,1226.87 L823.82,1229.45 L821.61,1231.84 L819.24,1234.03 L816.70,1236.00" fill="none" stroke="#000" stroke-width="1.45"/><path d="M806.99,1161.30 L810.12,1162.38 L813.16,1163.71 L816.08,1165.29 L818.86,1167.11 L821.49,1169.16 L823.95,1171.41 L826.23,1173.87 L828.30,1176.50 L830.15,1179.30 L831.78,1182.24 L833.17,1185.31 L834.31,1188.48 L835.20,1191.74 L835.82,1195.06 L836.18,1198.42 L836.27,1201.80 L836.09,1205.17 L835.64,1208.52 L834.94,1211.83 L833.97,1215.06 L832.74,1218.20 L831.28,1221.23 L829.57,1224.12 L827.65,1226.87 L825.51,1229.45 L823.17,1231.84 L820.65,1234.03 L817.97,1236.00" fill="none" stroke="#000" stroke-width="1.45"/><ellipse cx="795.60" cy="1232.50" rx="22.77" ry="3.50" fill="none" stroke="#000" stroke-width="1.59"/><path d="M784.01,1161.30 L807.19,1161.30" stroke="#000" stroke-width="2.03"/>
<circle cx="911.2" cy="1194.6" r="16.75" fill="none" stroke="#1a1a1a" stroke-width="10.50"/><circle cx="925.68" cy="1195.32" r="0.45" fill="#fff" fill-opacity="0.6"/><circle cx="929.61" cy="1195.52" r="0.45" fill="#fff" fill-opacity="0.6"/><circle cx="925.53" cy="1196.83" r="0.45" fill="#fff" fill-opacity="0.6"/><circle cx="929.31" cy="1197.45" r="0.45" fill="#fff" fill-opacity="0.6"/><circle cx="925.21" cy="1198.32" r="0.45" fill="#fff" fill-opacity="0.6"/><circle cx="928.82" cy="1199.35" r="0.45" fill="#fff" fill-opacity="0.6"/><circle cx="924.75" cy="1199.76" r="0.45" fill="#fff" fill-opacity="0.6"/><circle cx="928.14" cy="1201.19" r="0.45" fill="#fff" fill-opacity="0.6"/><circle cx="924.14" cy="1201.15" r="0.45" fill="#fff" fill-opacity="0.6"/><circle cx="927.26" cy="1202.96" r="0.45" fill="#fff" fill-opacity="0.6"/><circle cx="923.38" cy="1202.47" r="0.45" fill="#fff" fill-opacity="0.6"/><circle cx="926.22" cy="1204.64" r="0.45" fill="#fff" fill-opacity="0.6"/><circle cx="922.49" cy="1203.70" r="0.45" fill="#fff" fill-opacity="0.6"/><circle cx="925.01" cy="1206.21" r="0.45" fill="#fff" fill-opacity="0.6"/><circle cx="921.48" cy="1204.83" r="0.45" fill="#fff" fill-opacity="0.6"/><circle cx="923.64" cy="1207.65" r="0.45" fill="#fff" fill-opacity="0.6"/><circle cx="920.35" cy="1205.85" r="0.45" fill="#fff" fill-opacity="0.6"/><circle cx="922.14" cy="1208.95" r="0.45" fill="#fff" fill-opacity="0.6"/><circle cx="919.13" cy="1206.74" r="0.45" fill="#fff" fill-opacity="0.6"/><circle cx="920.53" cy="1210.09" r="0.45" fill="#fff" fill-opacity="0.6"/><circle cx="917.81" cy="1207.50" r="0.45" fill="#fff" fill-opacity="0.6"/><circle cx="918.80" cy="1211.06" r="0.45" fill="#fff" fill-opacity="0.6"/><circle cx="916.43" cy="1208.12" r="0.45" fill="#fff" fill-opacity="0.6"/><circle cx="917.00" cy="1211.86" r="0.45" fill="#fff" fill-opacity="0.6"/><circle cx="914.99" cy="1208.60" r="0.45" fill="#fff" fill-opacity="0.6"/><circle cx="915.13" cy="1212.46" r="0.45" fill="#fff" fill-opacity="0.6"/><circle cx="913.50" cy="1208.92" r="0.45" fill="#fff" fill-opacity="0.6"/><circle cx="913.22" cy="1212.87" r="0.45" fill="#fff" fill-opacity="0.6"/><circle cx="911.99" cy="1209.08" r="0.45" fill="#fff" fill-opacity="0.6"/><circle cx="911.29" cy="1213.07" r="0.45" fill="#fff" fill-opacity="0.6"/><circle cx="910.48" cy="1209.08" r="0.45" fill="#fff" fill-opacity="0.6"/><circle cx="909.35" cy="1213.08" r="0.45" fill="#fff" fill-opacity="0.6"/><circle cx="908.97" cy="1208.93" r="0.45" fill="#fff" fill-opacity="0.6"/><circle cx="907.44" cy="1212.88" r="0.45" fill="#fff" fill-opacity="0.6"/><circle cx="907.48" cy="1208.61" r="0.45" fill="#fff" fill-opacity="0.6"/><circle cx="905.57" cy="1212.48" r="0.45" fill="#fff" fill-opacity="0.6"/><circle cx="906.04" cy="1208.15" r="0.45" fill="#fff" fill-opacity="0.6"/><circle cx="903.76" cy="1211.89" r="0.45" fill="#fff" fill-opacity="0.6"/><circle cx="904.65" cy="1207.54" r="0.45" fill="#fff" fill-opacity="0.6"/><circle cx="902.03" cy="1211.10" r="0.45" fill="#fff" fill-opacity="0.6"/><circle cx="903.33" cy="1206.78" r="0.45" fill="#fff" fill-opacity="0.6"/><circle cx="900.40" cy="1210.14" r="0.45" fill="#fff" fill-opacity="0.6"/><circle cx="902.10" cy="1205.89" r="0.45" fill="#fff" fill-opacity="0.6"/><circle cx="898.89" cy="1209.00" r="0.45" fill="#fff" fill-opacity="0.6"/><circle cx="900.97" cy="1204.88" r="0.45" fill="#fff" fill-opacity="0.6"/><circle cx="897.51" cy="1207.71" r="0.45" fill="#fff" fill-opacity="0.6"/><circle cx="899.95" cy="1203.75" r="0.45" fill="#fff" fill-opacity="0.6"/><circle cx="896.28" cy="1206.28" r="0.45" fill="#fff" fill-opacity="0.6"/><circle cx="899.06" cy="1202.53" r="0.45" fill="#fff" fill-opacity="0.6"/><circle cx="895.22" cy="1204.71" r="0.45" fill="#fff" fill-opacity="0.6"/><circle cx="898.30" cy="1201.21" r="0.45" fill="#fff" fill-opacity="0.6"/><circle cx="894.34" cy="1203.04" r="0.45" fill="#fff" fill-opacity="0.6"/><circle cx="897.68" cy="1199.83" r="0.45" fill="#fff" fill-opacity="0.6"/><circle cx="893.63" cy="1201.27" r="0.45" fill="#fff" fill-opacity="0.6"/><circle cx="897.20" cy="1198.39" r="0.45" fill="#fff" fill-opacity="0.6"/><circle cx="893.12" cy="1199.43" r="0.45" fill="#fff" fill-opacity="0.6"/><circle cx="896.88" cy="1196.90" r="0.45" fill="#fff" fill-opacity="0.6"/><circle cx="892.81" cy="1197.54" r="0.45" fill="#fff" fill-opacity="0.6"/><circle cx="896.72" cy="1195.39" r="0.45" fill="#fff" fill-opacity="0.6"/><circle cx="892.70" cy="1195.61" r="0.45" fill="#fff" fill-opacity="0.6"/><circle cx="896.72" cy="1193.88" r="0.45" fill="#fff" fill-opacity="0.6"/><circle cx="892.79" cy="1193.68" r="0.45" fill="#fff" fill-opacity="0.6"/><circle cx="896.87" cy="1192.37" r="0.45" fill="#fff" fill-opacity="0.6"/><circle cx="893.09" cy="1191.75" r="0.45" fill="#fff" fill-opacity="0.6"/><circle cx="897.19" cy="1190.88" r="0.45" fill="#fff" fill-opacity="0.6"/><circle cx="893.58" cy="1189.85" r="0.45" fill="#fff" fill-opacity="0.6"/><circle cx="897.65" cy="1189.44" r="0.45" fill="#fff" fill-opacity="0.6"/><circle cx="894.26" cy="1188.01" r="0.45" fill="#fff" fill-opacity="0.6"/><circle cx="898.26" cy="1188.05" r="0.45" fill="#fff" fill-opacity="0.6"/><circle cx="895.14" cy="1186.24" r="0.45" fill="#fff" fill-opacity="0.6"/><circle cx="899.02" cy="1186.73" r="0.45" fill="#fff" fill-opacity="0.6"/><circle cx="896.18" cy="1184.56" r="0.45" fill="#fff" fill-opacity="0.6"/><circle cx="899.91" cy="1185.50" r="0.45" fill="#fff" fill-opacity="0.6"/><circle cx="897.39" cy="1182.99" r="0.45" fill="#fff" fill-opacity="0.6"/><circle cx="900.92" cy="1184.37" r="0.45" fill="#fff" fill-opacity="0.6"/><circle cx="898.76" cy="1181.55" r="0.45" fill="#fff" fill-opacity="0.6"/><circle cx="902.05" cy="1183.35" r="0.45" fill="#fff" fill-opacity="0.6"/><circle cx="900.26" cy="1180.25" r="0.45" fill="#fff" fill-opacity="0.6"/><circle cx="903.27" cy="1182.46" r="0.45" fill="#fff" fill-opacity="0.6"/><circle cx="901.87" cy="1179.11" r="0.45" fill="#fff" fill-opacity="0.6"/><circle cx="904.59" cy="1181.70" r="0.45" fill="#fff" fill-opacity="0.6"/><circle cx="903.60" cy="1178.14" r="0.45" fill="#fff" fill-opacity="0.6"/><circle cx="905.97" cy="1181.08" r="0.45" fill="#fff" fill-opacity="0.6"/><circle cx="905.40" cy="1177.34" r="0.45" fill="#fff" fill-opacity="0.6"/><circle cx="907.41" cy="1180.60" r="0.45" fill="#fff" fill-opacity="0.6"/><circle cx="907.27" cy="1176.74" r="0.45" fill="#fff" fill-opacity="0.6"/><circle cx="908.90" cy="1180.28" r="0.45" fill="#fff" fill-opacity="0.6"/><circle cx="909.18" cy="1176.33" r="0.45" fill="#fff" fill-opacity="0.6"/><circle cx="910.41" cy="1180.12" r="0.45" fill="#fff" fill-opacity="0.6"/><circle cx="911.11" cy="1176.13" r="0.45" fill="#fff" fill-opacity="0.6"/><circle cx="911.92" cy="1180.12" r="0.45" fill="#fff" fill-opacity="0.6"/><circle cx="913.05" cy="1176.12" r="0.45" fill="#fff" fill-opacity="0.6"/><circle cx="913.43" cy="1180.27" r="0.45" fill="#fff" fill-opacity="0.6"/><circle cx="914.96" cy="1176.32" r="0.45" fill="#fff" fill-opacity="0.6"/><circle cx="914.92" cy="1180.59" r="0.45" fill="#fff" fill-opacity="0.6"/><circle cx="916.83" cy="1176.72" r="0.45" fill="#fff" fill-opacity="0.6"/><circle cx="916.36" cy="1181.05" r="0.45" fill="#fff" fill-opacity="0.6"/><circle cx="918.64" cy="1177.31" r="0.45" fill="#fff" fill-opacity="0.6"/><circle cx="917.75" cy="1181.66" r="0.45" fill="#fff" fill-opacity="0.6"/><circle cx="920.37" cy="1178.10" r="0.45" fill="#fff" fill-opacity="0.6"/><circle cx="919.07" cy="1182.42" r="0.45" fill="#fff" fill-opacity="0.6"/><circle cx="922.00" cy="1179.06" r="0.45" fill="#fff" fill-opacity="0.6"/><circle cx="920.30" cy="1183.31" r="0.45" fill="#fff" fill-opacity="0.6"/><circle cx="923.51" cy="1180.20" r="0.45" fill="#fff" fill-opacity="0.6"/><circle cx="921.43" cy="1184.32" r="0.45" fill="#fff" fill-opacity="0.6"/><circle cx="924.89" cy="1181.49" r="0.45" fill="#fff" fill-opacity="0.6"/><circle cx="922.45" cy="1185.45" r="0.45" fill="#fff" fill-opacity="0.6"/><circle cx="926.12" cy="1182.92" r="0.45" fill="#fff" fill-opacity="0.6"/><circle cx="923.34" cy="1186.67" r="0.45" fill="#fff" fill-opacity="0.6"/><circle cx="927.18" cy="1184.49" r="0.45" fill="#fff" fill-opacity="0.6"/><circle cx="924.10" cy="1187.99" r="0.45" fill="#fff" fill-opacity="0.6"/><circle cx="928.06" cy="1186.16" r="0.45" fill="#fff" fill-opacity="0.6"/><circle cx="924.72" cy="1189.37" r="0.45" fill="#fff" fill-opacity="0.6"/><circle cx="928.77" cy="1187.93" r="0.45" fill="#fff" fill-opacity="0.6"/><circle cx="925.20" cy="1190.81" r="0.45" fill="#fff" fill-opacity="0.6"/><circle cx="929.28" cy="1189.77" r="0.45" fill="#fff" fill-opacity="0.6"/><circle cx="925.52" cy="1192.30" r="0.45" fill="#fff" fill-opacity="0.6"/><circle cx="929.59" cy="1191.66" r="0.45" fill="#fff" fill-opacity="0.6"/><circle cx="925.68" cy="1193.81" r="0.45" fill="#fff" fill-opacity="0.6"/><circle cx="929.70" cy="1193.59" r="0.45" fill="#fff" fill-opacity="0.6"/><path d="M932.65,1196.29 L950.28,1198.42 Q952.17,1198.70 952.26,1196.30 Q952.36,1193.90 950.46,1194.02 L932.71,1194.69" fill="none" stroke="#000" stroke-width="1.25"/><path d="M932.08,1199.80 L949.11,1204.80 Q950.93,1205.38 951.43,1203.03 Q951.92,1200.69 950.02,1200.49 L932.41,1198.23" fill="none" stroke="#000" stroke-width="1.25"/><path d="M930.94,1203.16 L946.92,1210.90 Q948.62,1211.78 949.49,1209.54 Q950.36,1207.30 948.52,1206.80 L931.52,1201.67" fill="none" stroke="#000" stroke-width="1.25"/><path d="M929.26,1206.29 L943.75,1216.56 Q945.28,1217.70 946.51,1215.64 Q947.74,1213.58 946.00,1212.78 L930.08,1204.92" fill="none" stroke="#000" stroke-width="1.25"/><path d="M927.09,1209.11 L939.69,1221.61 Q941.01,1222.99 942.56,1221.16 Q944.11,1219.33 942.53,1218.26 L928.12,1207.88" fill="none" stroke="#000" stroke-width="1.25"/><path d="M924.48,1211.52 L934.86,1225.93 Q935.93,1227.51 937.76,1225.96 Q939.59,1224.41 938.21,1223.09 L925.71,1210.49" fill="none" stroke="#000" stroke-width="1.25"/><path d="M921.52,1213.48 L929.38,1229.40 Q930.18,1231.14 932.24,1229.91 Q934.30,1228.68 933.16,1227.15 L922.89,1212.66" fill="none" stroke="#000" stroke-width="1.25"/><path d="M918.27,1214.92 L923.40,1231.92 Q923.90,1233.76 926.14,1232.89 Q928.38,1232.02 927.50,1230.32 L919.76,1214.34" fill="none" stroke="#000" stroke-width="1.25"/><path d="M914.83,1215.81 L917.09,1233.42 Q917.29,1235.32 919.63,1234.83 Q921.98,1234.33 921.40,1232.51 L916.40,1215.48" fill="none" stroke="#000" stroke-width="1.25"/><path d="M911.29,1216.11 L910.62,1233.86 Q910.50,1235.76 912.90,1235.66 Q915.30,1235.57 915.02,1233.68 L912.89,1216.05" fill="none" stroke="#000" stroke-width="1.25"/><path d="M907.75,1215.84 L904.17,1233.23 Q903.73,1235.09 906.12,1235.38 Q908.50,1235.68 908.53,1233.77 L909.33,1216.03" fill="none" stroke="#000" stroke-width="1.25"/><path d="M904.30,1214.98 L897.91,1231.54 Q897.17,1233.31 899.47,1233.99 Q901.77,1234.68 902.12,1232.80 L905.83,1215.43" fill="none" stroke="#000" stroke-width="1.25"/><path d="M901.04,1213.56 L892.01,1228.85 Q890.99,1230.47 893.15,1231.52 Q895.31,1232.58 895.96,1230.78 L902.48,1214.27" fill="none" stroke="#000" stroke-width="1.25"/><path d="M898.06,1211.63 L886.63,1225.22 Q885.36,1226.65 887.32,1228.05 Q889.27,1229.44 890.21,1227.78 L899.36,1212.56" fill="none" stroke="#000" stroke-width="1.25"/><path d="M895.43,1209.24 L881.93,1220.76 Q880.44,1221.97 882.14,1223.66 Q883.83,1225.36 885.04,1223.87 L896.56,1210.37" fill="none" stroke="#000" stroke-width="1.25"/><path d="M893.24,1206.44 L878.02,1215.59 Q876.36,1216.53 877.75,1218.48 Q879.15,1220.44 880.58,1219.17 L894.17,1207.74" fill="none" stroke="#000" stroke-width="1.25"/><path d="M891.53,1203.32 L875.02,1209.84 Q873.22,1210.49 874.28,1212.65 Q875.33,1214.81 876.95,1213.79 L892.24,1204.76" fill="none" stroke="#000" stroke-width="1.25"/><path d="M890.37,1199.97 L873.00,1203.68 Q871.12,1204.03 871.81,1206.33 Q872.49,1208.63 874.26,1207.89 L890.82,1201.50" fill="none" stroke="#000" stroke-width="1.25"/><path d="M889.77,1196.47 L872.03,1197.27 Q870.12,1197.30 870.42,1199.68 Q870.71,1202.07 872.57,1201.63 L889.96,1198.05" fill="none" stroke="#000" stroke-width="1.25"/><path d="M889.75,1192.91 L872.12,1190.78 Q870.23,1190.50 870.14,1192.90 Q870.04,1195.30 871.94,1195.18 L889.69,1194.51" fill="none" stroke="#000" stroke-width="1.25"/><path d="M890.32,1189.40 L873.29,1184.40 Q871.47,1183.82 870.97,1186.17 Q870.48,1188.51 872.38,1188.71 L889.99,1190.97" fill="none" stroke="#000" stroke-width="1.25"/><path d="M891.46,1186.04 L875.48,1178.30 Q873.78,1177.42 872.91,1179.66 Q872.04,1181.90 873.88,1182.40 L890.88,1187.53" fill="none" stroke="#000" stroke-width="1.25"/><path d="M893.14,1182.91 L878.65,1172.64 Q877.12,1171.50 875.89,1173.56 Q874.66,1175.62 876.40,1176.42 L892.32,1184.28" fill="none" stroke="#000" stroke-width="1.25"/><path d="M895.31,1180.09 L882.71,1167.59 Q881.39,1166.21 879.84,1168.04 Q878.29,1169.87 879.87,1170.94 L894.28,1181.32" fill="none" stroke="#000" stroke-width="1.25"/><path d="M897.92,1177.68 L887.54,1163.27 Q886.47,1161.69 884.64,1163.24 Q882.81,1164.79 884.19,1166.11 L896.69,1178.71" fill="none" stroke="#000" stroke-width="1.25"/><path d="M900.88,1175.72 L893.02,1159.80 Q892.22,1158.06 890.16,1159.29 Q888.10,1160.52 889.24,1162.05 L899.51,1176.54" fill="none" stroke="#000" stroke-width="1.25"/><path d="M904.13,1174.28 L899.00,1157.28 Q898.50,1155.44 896.26,1156.31 Q894.02,1157.18 894.90,1158.88 L902.64,1174.86" fill="none" stroke="#000" stroke-width="1.25"/><path d="M907.57,1173.39 L905.31,1155.78 Q905.11,1153.88 902.77,1154.37 Q900.42,1154.87 901.00,1156.69 L906.00,1173.72" fill="none" stroke="#000" stroke-width="1.25"/><path d="M911.11,1173.09 L911.78,1155.34 Q911.90,1153.44 909.50,1153.54 Q907.10,1153.63 907.38,1155.52 L909.51,1173.15" fill="none" stroke="#000" stroke-width="1.25"/><path d="M914.65,1173.36 L918.23,1155.97 Q918.67,1154.11 916.28,1153.82 Q913.90,1153.52 913.87,1155.43 L913.07,1173.17" fill="none" stroke="#000" stroke-width="1.25"/><path d="M918.10,1174.22 L924.49,1157.66 Q925.23,1155.89 922.93,1155.21 Q920.63,1154.52 920.28,1156.40 L916.57,1173.77" fill="none" stroke="#000" stroke-width="1.25"/><path d="M921.36,1175.64 L930.39,1160.35 Q931.41,1158.73 929.25,1157.68 Q927.09,1156.62 926.44,1158.42 L919.92,1174.93" fill="none" stroke="#000" stroke-width="1.25"/><path d="M924.34,1177.57 L935.77,1163.98 Q937.04,1162.55 935.08,1161.15 Q933.13,1159.76 932.19,1161.42 L923.04,1176.64" fill="none" stroke="#000" stroke-width="1.25"/><path d="M926.97,1179.96 L940.47,1168.44 Q941.96,1167.23 940.26,1165.54 Q938.57,1163.84 937.36,1165.33 L925.84,1178.83" fill="none" stroke="#000" stroke-width="1.25"/><path d="M929.16,1182.76 L944.38,1173.61 Q946.04,1172.67 944.65,1170.72 Q943.25,1168.76 941.82,1170.03 L928.23,1181.46" fill="none" stroke="#000" stroke-width="1.25"/><path d="M930.87,1185.88 L947.38,1179.36 Q949.18,1178.71 948.12,1176.55 Q947.07,1174.39 945.45,1175.41 L930.16,1184.44" fill="none" stroke="#000" stroke-width="1.25"/><path d="M932.03,1189.23 L949.40,1185.52 Q951.28,1185.17 950.59,1182.87 Q949.91,1180.57 948.14,1181.31 L931.58,1187.70" fill="none" stroke="#000" stroke-width="1.25"/><path d="M932.63,1192.73 L950.37,1191.93 Q952.28,1191.90 951.98,1189.52 Q951.69,1187.13 949.83,1187.57 L932.44,1191.15" fill="none" stroke="#000" stroke-width="1.25"/><circle cx="911.2" cy="1194.6" r="11.50" fill="#fff" stroke="#000" stroke-width="1.0"/></svg>
</body></html>
